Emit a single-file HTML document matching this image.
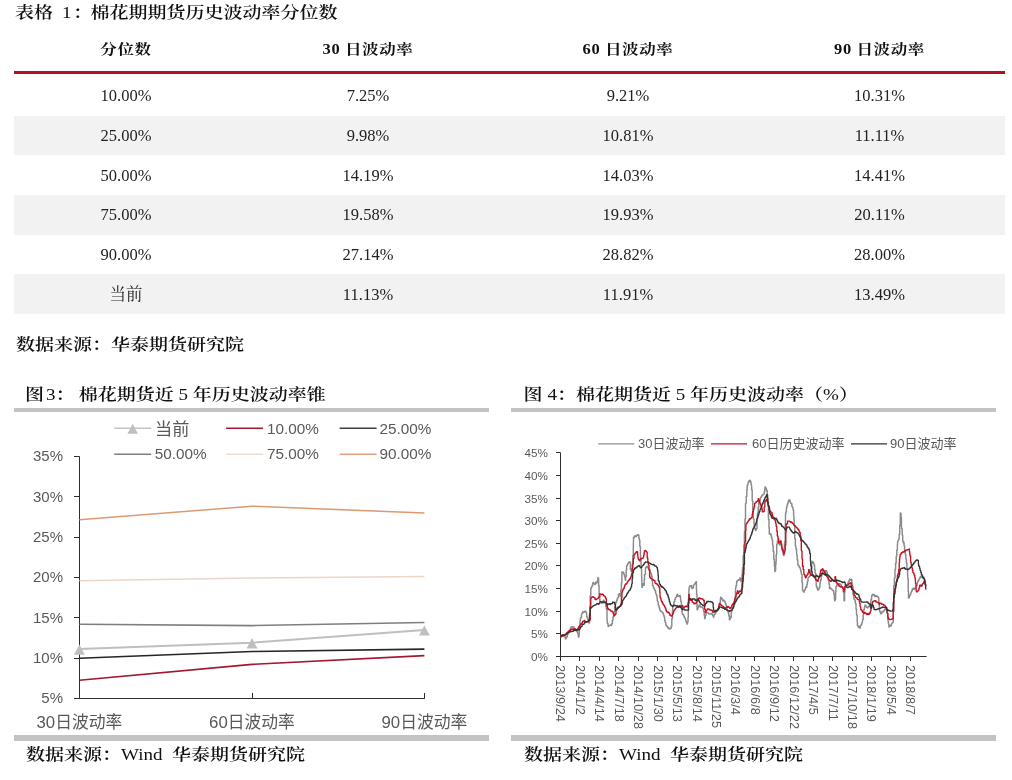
<!DOCTYPE html>
<html><head><meta charset="utf-8">
<style>
*{margin:0;padding:0;box-sizing:border-box}
html,body{width:1012px;height:780px;background:#fff;overflow:hidden}
body{position:relative;font-family:"Liberation Serif","Noto Serif CJK SC",serif;color:#1a1a1a}
.a{position:absolute;white-space:nowrap}
.t{font-size:19px;line-height:1;transform:scaleY(0.86);transform-origin:0 8.5px;font-weight:600;color:#111}
.l{font-weight:400}
.row{position:absolute;left:14px;width:991px;background:#f2f2f2}
.c{position:absolute;white-space:nowrap;transform:translateX(-50%);font-size:16.5px;line-height:1;color:#222}
.h{font-weight:bold;font-size:16.5px;color:#111;letter-spacing:0.6px;transform:translateX(-50%) scaleY(0.86);transform-origin:50% 6.5px}
.bar{position:absolute;background:#c3c3c3}
.sl{font-family:"Liberation Sans","Noto Sans CJK SC",sans-serif;color:#595959}
svg{position:absolute;left:0;top:0}
</style></head><body>
<div class="a t" style="left:15px;top:2.6px">表格<span class="l" style="margin-left:9px">1</span><span style="margin-left:1.5px">：</span><span style="margin-left:-1.5px">棉花期期货</span>历史波动率分位数</div>

<div class="c h" style="left:126px;top:42.4px">分位数</div>
<div class="c h" style="left:368px;top:42.4px">30 日波动率</div>
<div class="c h" style="left:628px;top:42.4px">60 日波动率</div>
<div class="c h" style="left:879.5px;top:42.4px">90 日波动率</div>
<div class="a" style="left:14px;top:71px;width:991px;height:3px;background:#b0101e"></div>

<div class="row" style="top:116px;height:38.5px"></div>
<div class="row" style="top:195px;height:39.6px"></div>
<div class="row" style="top:273.7px;height:40.3px"></div>

<div class="c" style="left:126px;top:88px">10.00%</div>
<div class="c" style="left:368px;top:88px">7.25%</div>
<div class="c" style="left:628px;top:88px">9.21%</div>
<div class="c" style="left:879.5px;top:88px">10.31%</div>

<div class="c" style="left:126px;top:128px">25.00%</div>
<div class="c" style="left:368px;top:128px">9.98%</div>
<div class="c" style="left:628px;top:128px">10.81%</div>
<div class="c" style="left:879.5px;top:128px">11.11%</div>

<div class="c" style="left:126px;top:168px">50.00%</div>
<div class="c" style="left:368px;top:168px">14.19%</div>
<div class="c" style="left:628px;top:168px">14.03%</div>
<div class="c" style="left:879.5px;top:168px">14.41%</div>

<div class="c" style="left:126px;top:207px">75.00%</div>
<div class="c" style="left:368px;top:207px">19.58%</div>
<div class="c" style="left:628px;top:207px">19.93%</div>
<div class="c" style="left:879.5px;top:207px">20.11%</div>

<div class="c" style="left:126px;top:247px">90.00%</div>
<div class="c" style="left:368px;top:247px">27.14%</div>
<div class="c" style="left:628px;top:247px">28.82%</div>
<div class="c" style="left:879.5px;top:247px">28.00%</div>

<div class="c" style="left:126px;top:287px">当前</div>
<div class="c" style="left:368px;top:287px">11.13%</div>
<div class="c" style="left:628px;top:287px">11.91%</div>
<div class="c" style="left:879.5px;top:287px">13.49%</div>

<div class="a t" style="left:16px;top:334.5px">数据来源：华泰期货研究院</div>

<div class="a t" style="left:25px;top:384.6px">图<span class="l" style="margin-left:2px">3</span>：&nbsp;<span style="margin-left:-0.5px">棉花</span>期货近<span class="l"> 5 </span>年历史波动率锥</div>
<div class="a t" style="left:523.5px;top:384.6px">图<span class="l" style="margin-left:5px">4</span>：棉花期货近<span class="l"> 5 </span>年历史波动率（<span class="l">%</span>）</div>
<div class="bar" style="left:14px;top:408px;width:474.5px;height:4px"></div>
<div class="bar" style="left:511px;top:408px;width:485px;height:4px"></div>
<div class="bar" style="left:14px;top:735px;width:474.5px;height:5.5px"></div>
<div class="bar" style="left:511px;top:735px;width:485px;height:5.5px"></div>
<div class="a t" style="left:26px;top:745.2px">数据来源：<span class="l">Wind&nbsp; </span>华泰期货研究院</div>
<div class="a t" style="left:524px;top:745.2px">数据来源：<span class="l">Wind&nbsp; </span>华泰期货研究院</div>

<style>
.yl{right:949px;font-size:15px;line-height:18px;text-align:right}
.xl{top:713.5px;font-size:16.8px;line-height:18px;transform:translateX(-50%)}
.lg{font-size:15.3px;line-height:18px}
.ry{right:464px;font-size:11.7px;line-height:14px;text-align:right}
.rx{top:664.5px;font-size:12.8px;line-height:12px;transform-origin:0 0;transform:rotate(90deg) translateY(-50%)}
.rl{top:436px;font-size:13px;line-height:16px}
</style><svg width="1012" height="780" viewBox="0 0 1012 780"><line x1="79.5" y1="456.4" x2="79.5" y2="698.5" stroke="#2e2e2e" stroke-width="1"/>
<line x1="74" y1="698.5" x2="424.9" y2="698.5" stroke="#2e2e2e" stroke-width="1"/>
<line x1="74" y1="698.5" x2="79.5" y2="698.5" stroke="#2e2e2e" stroke-width="1"/>
<line x1="74" y1="658.5" x2="79.5" y2="658.5" stroke="#2e2e2e" stroke-width="1"/>
<line x1="74" y1="617.5" x2="79.5" y2="617.5" stroke="#2e2e2e" stroke-width="1"/>
<line x1="74" y1="577.5" x2="79.5" y2="577.5" stroke="#2e2e2e" stroke-width="1"/>
<line x1="74" y1="537.5" x2="79.5" y2="537.5" stroke="#2e2e2e" stroke-width="1"/>
<line x1="74" y1="496.5" x2="79.5" y2="496.5" stroke="#2e2e2e" stroke-width="1"/>
<line x1="74" y1="456.5" x2="79.5" y2="456.5" stroke="#2e2e2e" stroke-width="1"/>
<line x1="252.5" y1="693" x2="252.5" y2="698.5" stroke="#2e2e2e" stroke-width="1"/>
<line x1="424.5" y1="693" x2="424.5" y2="698.5" stroke="#2e2e2e" stroke-width="1"/>
<polyline fill="none" stroke="#ecd6c8" stroke-width="1.6" points="79.4,580.8 252.0,578.0 424.4,576.5"/>
<polyline fill="none" stroke="#dc9a70" stroke-width="1.5" points="79.4,519.8 252.0,506.2 424.4,512.9"/>
<polyline fill="none" stroke="#7f7f7f" stroke-width="1.6" points="79.4,624.3 252.0,625.6 424.4,622.5"/>
<polyline fill="none" stroke="#262626" stroke-width="1.6" points="79.4,658.2 252.0,651.5 424.4,649.1"/>
<polyline fill="none" stroke="#a3182e" stroke-width="1.6" points="79.4,680.2 252.0,664.4 424.4,655.6"/>
<polyline fill="none" stroke="#bfbfbf" stroke-width="2" points="79.4,648.9 252.0,642.7 424.4,629.9"/>
<polygon fill="#bfbfbf" points="74.0,654.7 84.8,654.7 79.4,644.4"/>
<polygon fill="#bfbfbf" points="246.6,648.4 257.4,648.4 252.0,638.1"/>
<polygon fill="#bfbfbf" points="419.0,635.6 429.8,635.6 424.4,625.4"/>
<line x1="114.2" y1="428.2" x2="151.2" y2="428.2" stroke="#c4c4c4" stroke-width="1.4"/>
<line x1="226.1" y1="428.2" x2="263.1" y2="428.2" stroke="#a3182e" stroke-width="1.4"/>
<line x1="339.6" y1="428.2" x2="376.6" y2="428.2" stroke="#404040" stroke-width="1.4"/>
<line x1="114.2" y1="454.2" x2="151.2" y2="454.2" stroke="#7f7f7f" stroke-width="1.4"/>
<line x1="226.1" y1="454.2" x2="263.1" y2="454.2" stroke="#ecdcd0" stroke-width="1.4"/>
<line x1="339.6" y1="454.2" x2="376.6" y2="454.2" stroke="#e0a282" stroke-width="1.4"/>
<polygon fill="#bfbfbf" points="127.4,433.8 137.9,433.8 132.7,423.8"/>
<line x1="560.5" y1="452.7" x2="560.5" y2="657" stroke="#2e2e2e" stroke-width="1"/>
<line x1="556" y1="656.5" x2="926.6" y2="656.5" stroke="#2e2e2e" stroke-width="1"/>
<line x1="556" y1="656.5" x2="560.5" y2="656.5" stroke="#2e2e2e" stroke-width="1"/>
<line x1="556" y1="633.5" x2="560.5" y2="633.5" stroke="#2e2e2e" stroke-width="1"/>
<line x1="556" y1="611.5" x2="560.5" y2="611.5" stroke="#2e2e2e" stroke-width="1"/>
<line x1="556" y1="588.5" x2="560.5" y2="588.5" stroke="#2e2e2e" stroke-width="1"/>
<line x1="556" y1="565.5" x2="560.5" y2="565.5" stroke="#2e2e2e" stroke-width="1"/>
<line x1="556" y1="543.5" x2="560.5" y2="543.5" stroke="#2e2e2e" stroke-width="1"/>
<line x1="556" y1="520.5" x2="560.5" y2="520.5" stroke="#2e2e2e" stroke-width="1"/>
<line x1="556" y1="498.5" x2="560.5" y2="498.5" stroke="#2e2e2e" stroke-width="1"/>
<line x1="556" y1="475.5" x2="560.5" y2="475.5" stroke="#2e2e2e" stroke-width="1"/>
<line x1="556" y1="452.5" x2="560.5" y2="452.5" stroke="#2e2e2e" stroke-width="1"/>
<line x1="560.5" y1="656.5" x2="560.5" y2="661" stroke="#2e2e2e" stroke-width="1"/>
<line x1="579.5" y1="656.5" x2="579.5" y2="661" stroke="#2e2e2e" stroke-width="1"/>
<line x1="599.5" y1="656.5" x2="599.5" y2="661" stroke="#2e2e2e" stroke-width="1"/>
<line x1="618.5" y1="656.5" x2="618.5" y2="661" stroke="#2e2e2e" stroke-width="1"/>
<line x1="638.5" y1="656.5" x2="638.5" y2="661" stroke="#2e2e2e" stroke-width="1"/>
<line x1="657.5" y1="656.5" x2="657.5" y2="661" stroke="#2e2e2e" stroke-width="1"/>
<line x1="677.5" y1="656.5" x2="677.5" y2="661" stroke="#2e2e2e" stroke-width="1"/>
<line x1="696.5" y1="656.5" x2="696.5" y2="661" stroke="#2e2e2e" stroke-width="1"/>
<line x1="715.5" y1="656.5" x2="715.5" y2="661" stroke="#2e2e2e" stroke-width="1"/>
<line x1="735.5" y1="656.5" x2="735.5" y2="661" stroke="#2e2e2e" stroke-width="1"/>
<line x1="754.5" y1="656.5" x2="754.5" y2="661" stroke="#2e2e2e" stroke-width="1"/>
<line x1="774.5" y1="656.5" x2="774.5" y2="661" stroke="#2e2e2e" stroke-width="1"/>
<line x1="793.5" y1="656.5" x2="793.5" y2="661" stroke="#2e2e2e" stroke-width="1"/>
<line x1="813.5" y1="656.5" x2="813.5" y2="661" stroke="#2e2e2e" stroke-width="1"/>
<line x1="832.5" y1="656.5" x2="832.5" y2="661" stroke="#2e2e2e" stroke-width="1"/>
<line x1="852.5" y1="656.5" x2="852.5" y2="661" stroke="#2e2e2e" stroke-width="1"/>
<line x1="871.5" y1="656.5" x2="871.5" y2="661" stroke="#2e2e2e" stroke-width="1"/>
<line x1="890.5" y1="656.5" x2="890.5" y2="661" stroke="#2e2e2e" stroke-width="1"/>
<line x1="910.5" y1="656.5" x2="910.5" y2="661" stroke="#2e2e2e" stroke-width="1"/>
<polyline fill="none" stroke="#8a8a8a" stroke-width="1.45" stroke-linejoin="round" points="560.8,636.3 561.4,636.3 561.4,635.7 561.9,635.7 561.9,636.2 562.0,636.2 562.0,636.2 562.6,636.2 562.6,635.3 563.1,635.3 563.1,634.5 563.2,634.5 563.2,635.2 563.8,635.2 563.8,635.5 564.2,635.5 564.2,635.7 564.4,635.7 564.4,636.1 565.0,636.1 565.0,637.6 565.4,637.6 565.4,639.0 565.6,639.0 565.6,638.7 566.2,638.7 566.2,637.8 566.5,637.8 566.5,637.3 566.8,637.3 566.8,636.8 567.4,636.8 567.4,634.8 567.7,634.8 567.7,634.2 568.0,634.2 568.0,632.9 568.6,632.9 568.6,632.5 569.2,632.5 569.2,632.1 569.4,632.1 569.4,631.9 569.8,631.9 569.8,631.2 570.4,631.2 570.4,628.1 571.0,628.1 571.0,626.9 571.1,626.9 571.1,627.3 571.6,627.3 571.6,627.1 572.2,627.1 572.2,626.8 572.3,626.8 572.3,626.7 572.8,626.7 572.8,627.0 573.4,627.0 573.5,627.0 573.5,627.0 574.0,627.0 574.0,629.1 574.6,629.1 574.6,629.5 575.2,629.5 575.2,629.9 575.2,629.9 575.2,629.9 575.8,629.9 575.8,630.3 576.3,630.3 576.3,630.8 576.4,630.8 576.4,630.5 577.0,630.5 577.0,631.7 577.5,631.7 577.5,632.8 577.6,632.8 577.6,633.2 578.2,633.2 578.2,636.2 578.6,636.2 578.6,637.2 578.8,637.2 578.8,635.5 579.2,635.5 579.2,626.7 579.4,626.7 579.4,625.6 580.0,625.6 580.0,620.8 580.4,620.8 580.4,618.3 580.6,618.3 580.6,617.9 581.2,617.9 581.2,616.7 581.5,616.7 581.5,614.1 581.8,614.1 581.8,613.6 582.4,613.6 582.4,612.4 582.7,612.4 582.7,611.8 583.0,611.8 583.0,612.6 583.6,612.6 583.6,612.2 584.2,612.2 584.2,611.8 584.4,611.8 584.4,611.6 584.8,611.6 584.8,611.1 585.4,611.1 585.4,611.5 585.6,611.5 585.6,611.2 586.0,611.2 586.0,612.6 586.6,612.6 586.6,614.7 586.7,614.7 586.7,616.5 587.2,616.5 587.2,617.8 587.8,617.8 587.8,619.2 587.9,619.2 587.9,619.5 588.4,619.5 588.4,621.5 589.0,621.5 589.0,622.9 589.0,622.9 589.0,623.1 589.6,623.1 589.6,614.5 589.6,614.5 589.6,613.9 590.2,613.9 590.2,596.2 590.2,596.2 590.2,595.8 590.8,595.8 590.8,588.2 590.8,588.2 590.8,588.2 591.4,588.2 591.4,587.0 591.9,587.0 591.9,585.9 592.0,585.9 592.0,585.8 592.6,585.8 592.6,583.2 593.1,583.2 593.1,582.5 593.2,582.5 593.2,582.6 593.8,582.6 593.8,583.6 594.4,583.6 594.4,584.2 594.8,584.2 594.8,584.6 595.0,584.6 595.0,584.1 595.6,584.1 595.6,582.3 595.9,582.3 595.9,583.2 596.2,583.2 596.2,583.0 596.8,583.0 596.8,582.4 597.1,582.4 597.1,582.0 597.4,582.0 597.4,580.5 597.9,580.5 597.9,577.5 598.0,577.5 598.0,578.2 598.6,578.2 598.6,585.2 598.6,585.2 598.6,585.6 599.1,585.6 599.1,596.0 599.2,596.0 599.2,596.7 599.8,596.7 599.8,600.4 600.0,600.4 600.0,601.8 600.0,601.8 600.0,601.6 600.4,601.6 600.4,601.8 601.0,601.8 601.0,602.2 601.6,602.2 601.6,602.6 601.7,602.6 601.7,603.3 602.2,603.3 602.2,602.7 602.8,602.7 602.8,601.0 603.4,601.0 603.4,600.2 603.5,600.2 603.5,600.1 604.0,600.1 604.0,601.6 604.6,601.6 604.6,602.4 605.2,602.4 605.2,603.2 605.2,603.2 605.2,603.2 605.8,603.2 605.8,606.6 606.4,606.6 606.4,609.2 606.4,609.2 606.4,609.5 607.0,609.5 607.0,619.7 607.2,619.7 607.2,623.0 607.6,623.0 607.6,623.8 608.1,623.8 608.1,626.4 608.2,626.4 608.2,626.3 608.8,626.3 608.8,625.5 609.4,625.5 609.4,625.4 610.0,625.4 610.0,625.2 610.4,625.2 610.4,625.1 610.6,625.1 610.6,624.8 611.2,624.8 611.2,625.6 611.5,625.6 611.5,624.8 611.8,624.8 611.8,623.6 612.4,623.6 612.4,620.3 613.0,620.3 613.0,617.0 613.6,617.0 613.6,614.0 613.9,614.0 613.9,612.4 614.2,612.4 614.2,611.2 614.8,611.2 614.8,606.5 615.4,606.5 615.4,604.1 615.6,604.1 615.6,603.2 616.0,603.2 616.0,601.9 616.6,601.9 616.6,600.3 617.2,600.3 617.2,598.7 617.3,598.7 617.3,598.3 617.8,598.3 617.8,597.7 618.4,597.7 618.4,594.7 619.0,594.7 619.0,593.9 619.1,593.9 619.1,593.7 619.6,593.7 619.6,594.8 620.2,594.8 620.2,596.6 620.2,596.6 620.2,596.6 620.8,596.6 620.8,589.9 621.4,589.9 621.4,582.8 621.4,582.8 621.4,582.7 621.9,582.7 621.9,572.0 622.0,572.0 622.0,572.0 622.6,572.0 623.1,572.0 623.1,572.5 623.2,572.5 623.2,572.7 623.8,572.7 623.8,573.9 624.2,573.9 624.2,574.8 624.4,574.8 624.4,576.0 625.0,576.0 625.0,578.4 625.4,578.4 625.4,580.2 625.6,580.2 625.6,576.7 626.2,576.7 626.2,570.1 626.6,570.1 626.6,565.8 626.8,565.8 626.8,565.7 627.4,565.7 627.4,564.5 627.7,564.5 627.7,563.8 628.0,563.8 628.0,563.3 628.6,563.3 628.6,562.7 628.9,562.7 628.9,562.1 629.2,562.1 629.2,561.8 629.8,561.8 629.8,562.3 629.8,562.3 629.8,562.3 630.4,562.3 630.4,569.2 630.4,569.2 630.4,569.2 631.0,569.2 631.0,570.6 631.2,570.6 631.2,571.2 631.6,571.2 631.6,568.8 632.2,568.8 632.2,565.2 632.3,565.2 632.3,564.2 632.8,564.2 632.8,555.5 633.3,555.5 633.3,546.3 633.4,546.3 633.4,541.9 633.5,541.9 633.5,537.1 634.0,537.1 634.0,537.4 634.6,537.4 634.6,536.2 634.6,536.2 634.6,536.0 635.2,536.0 635.2,536.2 635.8,536.2 635.8,536.4 636.4,536.4 636.4,535.1 636.4,535.1 637.0,535.1 637.0,535.3 637.6,535.3 637.6,534.7 638.1,534.7 638.1,534.9 638.2,534.9 638.2,535.0 638.8,535.0 638.8,537.9 639.3,537.9 639.3,538.9 639.4,538.9 639.4,540.2 639.8,540.2 639.8,545.8 640.0,545.8 640.0,546.8 640.4,546.8 640.4,554.9 640.6,554.9 640.6,558.9 641.0,558.9 641.0,566.5 641.2,566.5 641.2,568.9 641.6,568.9 641.6,576.9 641.8,576.9 641.8,582.3 641.9,582.3 641.9,587.3 642.4,587.3 642.4,586.0 642.7,586.0 642.7,585.0 643.0,585.0 643.0,585.2 643.3,585.2 643.3,583.8 643.6,583.8 643.6,584.4 643.9,584.4 643.9,585.2 644.2,585.2 644.2,580.0 644.5,580.0 644.5,574.8 644.8,574.8 644.8,574.4 645.4,574.4 645.4,569.6 645.6,569.6 645.6,567.7 646.0,567.7 646.0,567.3 646.6,567.3 646.6,566.4 646.8,566.4 646.8,566.2 647.2,566.2 647.2,566.6 647.8,566.6 647.8,567.2 647.9,567.2 647.9,567.8 648.4,567.8 648.4,568.7 649.0,568.7 649.0,569.9 649.1,569.9 649.1,569.1 649.6,569.1 649.6,570.6 650.2,570.6 650.2,572.4 650.2,572.4 650.2,572.6 650.8,572.6 650.8,573.6 651.4,573.6 651.4,576.0 651.4,576.0 651.4,576.0 652.0,576.0 652.0,580.7 652.5,580.7 652.5,585.3 652.6,585.3 652.6,585.3 653.2,585.3 653.2,587.1 653.7,587.1 653.7,587.9 653.8,587.9 653.8,588.1 654.4,588.1 654.4,589.5 654.8,589.5 654.8,590.4 655.0,590.4 655.0,590.7 655.6,590.7 655.6,593.2 656.0,593.2 656.0,594.1 656.2,594.1 656.2,594.7 656.8,594.7 656.8,597.1 657.2,597.1 657.2,600.5 657.4,600.5 657.4,601.1 658.0,601.1 658.0,602.9 658.3,602.9 658.3,605.0 658.6,605.0 658.6,605.9 659.2,605.9 659.2,607.9 659.8,607.9 659.8,609.9 660.0,609.9 660.0,610.8 660.4,610.8 660.4,610.7 661.0,610.7 661.0,611.5 661.6,611.5 661.6,611.7 661.8,611.7 661.8,612.0 662.2,612.0 662.2,612.5 662.8,612.5 662.8,613.3 663.4,613.3 663.4,614.1 663.5,614.1 663.5,615.0 664.0,615.0 664.0,616.8 664.6,616.8 664.6,619.2 664.7,619.2 664.7,620.4 665.2,620.4 665.2,622.4 665.8,622.4 665.8,624.8 665.8,624.8 665.8,625.0 666.4,625.0 666.4,626.1 667.0,626.1 667.0,626.2 667.6,626.2 667.6,627.4 668.2,627.4 668.2,628.6 668.8,628.6 668.8,628.0 669.3,628.0 669.3,629.0 669.4,629.0 669.4,629.0 670.0,629.0 670.0,628.6 670.6,628.6 670.6,628.2 671.0,628.2 671.0,628.2 671.2,628.2 671.2,626.3 671.8,626.3 671.8,618.7 672.4,618.7 672.4,611.1 672.7,611.1 672.7,606.2 673.0,606.2 673.0,606.6 673.6,606.6 673.6,603.6 673.9,603.6 673.9,601.9 674.2,601.9 674.2,601.4 674.8,601.4 674.8,599.2 675.4,599.2 675.4,598.0 675.6,598.0 675.6,597.5 676.0,597.5 676.0,597.1 676.6,597.1 676.6,595.2 677.2,595.2 677.2,594.4 677.4,594.4 677.4,594.2 677.8,594.2 677.8,596.3 678.4,596.3 679.0,596.3 679.6,596.3 679.7,596.3 679.7,595.5 680.2,595.5 680.2,597.7 680.6,597.7 680.6,600.2 680.8,600.2 680.8,601.4 681.4,601.4 681.4,607.4 681.4,607.4 681.4,607.4 682.0,607.4 682.0,611.7 682.2,611.7 682.2,613.6 682.6,613.6 682.6,614.3 683.2,614.3 683.2,614.8 683.2,614.8 683.2,614.9 683.8,614.9 683.8,616.5 684.4,616.5 684.4,617.7 684.8,617.7 684.8,617.9 685.0,617.9 685.0,618.6 685.6,618.6 685.6,620.4 685.8,620.4 685.8,621.0 686.2,621.0 686.2,622.2 686.8,622.2 686.8,623.7 686.8,623.7 686.8,623.9 687.4,623.9 687.4,622.2 687.8,622.2 687.8,621.9 688.0,621.9 688.0,617.4 688.3,617.4 688.3,602.6 688.6,602.6 688.6,596.9 688.9,596.9 688.9,589.3 689.2,589.3 689.2,587.4 689.4,587.4 689.4,586.2 689.8,586.2 689.8,586.4 690.4,586.4 690.4,586.0 690.9,586.0 690.9,585.7 691.0,585.7 691.0,585.8 691.6,585.8 691.6,587.0 691.9,587.0 691.9,588.4 692.2,588.4 692.2,588.3 692.8,588.3 692.8,587.9 693.4,587.9 693.4,585.2 693.5,585.2 693.5,585.1 694.0,585.1 694.0,584.5 694.6,584.5 694.6,583.7 695.0,583.7 695.0,583.1 695.2,583.1 695.2,583.5 695.8,583.5 695.8,582.3 696.0,582.3 696.0,581.8 696.4,581.8 696.4,589.5 696.6,589.5 696.6,594.4 697.0,594.4 697.0,606.6 697.1,606.6 697.1,609.8 697.6,609.8 697.6,608.3 698.1,608.3 698.1,606.7 698.2,606.7 698.2,606.9 698.8,606.9 698.8,605.7 699.1,605.7 699.1,605.0 699.4,605.0 699.4,605.3 700.0,605.3 700.0,606.8 700.2,606.8 700.2,607.0 700.6,607.0 701.2,607.0 701.7,607.0 701.7,607.1 701.8,607.1 701.8,607.2 702.4,607.2 702.4,607.8 702.7,607.8 703.0,607.8 703.0,608.6 703.6,608.6 703.6,611.1 703.7,611.1 703.7,611.6 704.2,611.6 704.2,615.3 704.6,615.3 704.6,618.8 704.8,618.8 704.8,617.7 705.3,617.7 705.3,615.4 705.4,615.4 705.4,615.2 706.0,615.2 706.0,613.4 706.3,613.4 706.3,612.4 706.6,612.4 706.6,612.6 707.2,612.6 707.2,612.6 707.3,612.6 707.3,612.8 707.8,612.8 707.8,613.0 708.4,613.0 708.4,613.6 708.9,613.6 708.9,613.9 709.0,613.9 709.6,613.9 709.6,613.9 710.2,613.9 710.4,613.9 710.8,613.9 710.8,614.1 711.4,614.1 711.4,613.5 711.4,613.5 711.4,613.4 712.0,613.4 712.0,613.9 712.5,613.9 712.5,615.2 712.6,615.2 712.6,615.4 713.2,615.4 713.2,616.6 713.5,616.6 713.5,617.3 713.8,617.3 713.8,615.0 714.4,615.0 714.4,614.4 714.5,614.4 714.5,614.2 715.0,614.2 715.0,613.8 715.6,613.8 715.6,612.1 715.6,612.1 715.6,612.1 716.2,612.1 716.2,611.5 716.8,611.5 716.8,610.9 717.1,610.9 717.1,610.5 717.4,610.5 717.4,610.0 718.0,610.0 718.0,609.0 718.6,609.0 718.6,608.0 718.6,608.0 718.6,607.9 719.2,607.9 719.2,605.7 719.7,605.7 719.7,602.8 719.8,602.8 719.8,602.4 720.4,602.4 720.4,598.5 720.7,598.5 720.7,597.3 721.0,597.3 721.0,597.7 721.6,597.7 721.6,598.6 721.7,598.6 721.7,598.4 722.2,598.4 722.2,599.5 722.7,599.5 722.7,600.7 722.8,600.7 722.8,600.7 723.4,600.7 723.4,600.3 724.0,600.3 724.0,601.0 724.3,601.0 724.3,600.8 724.6,600.8 724.6,601.7 725.2,601.7 725.2,603.0 725.3,603.0 725.3,603.5 725.8,603.5 725.8,604.8 726.3,604.8 726.3,606.6 726.4,606.6 726.4,606.6 727.0,606.6 727.0,609.4 727.4,609.4 727.4,610.2 727.6,610.2 727.6,610.4 728.2,610.4 728.2,612.8 728.4,612.8 728.4,613.6 728.8,613.6 728.8,615.8 729.4,615.8 729.4,619.4 729.4,619.4 729.4,619.7 730.0,619.7 730.0,618.3 730.4,618.3 730.4,617.3 730.6,617.3 730.6,617.4 731.2,617.4 731.2,613.2 731.5,613.2 731.5,611.1 731.8,611.1 731.8,610.2 732.4,610.2 732.4,608.4 732.5,608.4 732.5,608.4 733.0,608.4 733.0,607.0 733.5,607.0 733.5,605.0 733.6,605.0 733.6,604.8 734.2,604.8 734.2,602.4 734.5,602.4 734.5,600.9 734.8,600.9 734.8,599.4 735.4,599.4 735.4,591.0 735.6,591.0 735.6,587.8 736.0,587.8 736.0,585.5 736.6,585.5 736.6,581.9 736.6,581.9 736.6,581.7 737.2,581.7 737.2,580.5 737.8,580.5 737.8,580.6 738.1,580.6 738.1,579.9 738.4,579.9 738.4,580.3 739.0,580.3 739.0,579.5 739.6,579.5 739.6,578.7 739.7,578.7 739.7,578.0 740.2,578.0 740.2,579.4 740.8,579.4 740.8,581.1 741.0,581.1 741.0,581.8 741.4,581.8 741.4,578.1 742.0,578.1 742.0,574.5 742.4,574.5 742.4,569.8 742.6,569.8 742.6,567.4 743.2,567.4 743.2,555.8 743.8,555.8 743.8,545.0 744.4,545.0 744.4,534.2 744.5,534.2 744.5,531.5 745.0,531.5 745.0,519.0 745.5,519.0 745.5,504.8 745.6,504.8 745.6,503.3 746.2,503.3 746.2,496.5 746.8,496.5 746.8,489.8 747.2,489.8 747.2,485.4 747.4,485.4 747.4,485.0 748.0,485.0 748.0,482.6 748.6,482.6 748.6,481.3 748.6,481.3 748.6,481.2 749.2,481.2 749.2,481.6 749.8,481.6 749.8,480.2 750.0,480.2 750.0,480.4 750.4,480.4 750.4,481.8 751.0,481.8 751.0,484.3 751.3,484.3 751.3,485.1 751.6,485.1 751.6,489.8 752.2,489.8 752.2,499.2 752.3,499.2 752.3,500.9 752.8,500.9 752.8,509.6 753.3,509.6 753.3,518.3 753.4,518.3 753.4,519.1 754.0,519.1 754.0,523.9 754.3,523.9 754.3,526.9 754.6,526.9 754.6,528.3 755.2,528.3 755.2,529.4 755.4,529.4 755.4,530.6 755.8,530.6 755.8,529.7 756.4,529.7 756.4,528.5 756.4,528.5 756.4,528.5 757.0,528.5 757.0,519.9 757.4,519.9 757.4,513.7 757.6,513.7 757.6,513.3 758.2,513.3 758.2,507.3 758.8,507.3 758.8,501.3 758.8,501.3 758.8,500.5 759.4,500.5 759.4,501.8 760.0,501.8 760.0,500.1 760.3,500.1 760.3,498.2 760.6,498.2 760.6,497.6 761.2,497.6 761.2,496.5 761.8,496.5 761.8,495.4 761.9,495.4 761.9,495.2 762.4,495.2 762.4,494.9 763.0,494.9 763.0,494.5 763.6,494.5 763.6,494.1 763.6,494.1 763.6,494.1 764.2,494.1 764.2,491.8 764.8,491.8 764.8,488.3 765.0,488.3 765.0,487.0 765.4,487.0 765.4,487.8 766.0,487.8 766.0,488.5 766.4,488.5 766.4,489.5 766.6,489.5 766.6,490.5 767.2,490.5 767.2,495.0 767.7,495.0 767.7,499.6 767.8,499.6 767.8,502.1 768.4,502.1 768.4,517.1 768.5,517.1 768.5,519.5 769.0,519.5 769.0,527.9 769.3,527.9 769.3,533.9 769.6,533.9 770.2,533.9 770.2,533.8 770.5,533.8 770.8,533.8 770.8,535.2 771.4,535.2 771.4,537.2 771.8,537.2 771.8,538.6 772.0,538.6 772.0,540.1 772.6,540.1 772.6,544.2 772.8,544.2 772.8,546.1 773.2,546.1 773.2,551.3 773.8,551.3 773.8,558.6 773.8,558.6 773.8,559.3 774.4,559.3 774.4,565.9 774.8,565.9 774.8,571.6 775.0,571.6 775.0,570.8 775.6,570.8 775.6,564.8 775.9,564.8 775.9,561.8 776.2,561.8 776.2,554.8 776.7,554.8 776.7,544.3 776.8,544.3 776.8,543.9 777.4,543.9 777.4,540.9 777.9,540.9 777.9,539.9 778.0,539.9 778.0,540.1 778.6,540.1 778.6,542.7 779.2,542.7 779.2,544.2 779.4,544.2 779.4,545.0 779.8,545.0 779.8,544.3 780.4,544.3 780.4,541.9 780.4,541.9 780.4,541.8 781.0,541.8 781.0,544.7 781.6,544.7 781.6,547.7 782.0,547.7 782.0,550.0 782.2,550.0 782.2,550.4 782.8,550.4 782.8,552.1 783.4,552.1 783.4,555.2 783.5,555.2 783.5,555.5 784.0,555.5 784.0,548.5 784.5,548.5 784.5,542.2 784.6,542.2 784.6,541.5 785.2,541.5 785.2,524.7 785.5,524.7 785.5,513.6 785.8,513.6 785.8,512.1 786.4,512.1 786.4,508.5 786.5,508.5 786.5,507.4 787.0,507.4 787.0,505.0 787.6,505.0 787.6,503.2 788.2,503.2 788.2,501.4 788.6,501.4 788.6,500.2 788.8,500.2 788.8,500.6 789.4,500.6 789.4,499.9 790.0,499.9 790.0,501.4 790.2,501.4 790.2,502.8 790.6,502.8 790.6,503.0 791.2,503.0 791.2,503.4 791.7,503.4 791.7,503.8 791.8,503.8 791.8,506.3 792.4,506.3 792.4,507.6 793.0,507.6 793.0,508.9 793.1,508.9 793.1,509.9 793.6,509.9 793.6,515.7 793.9,515.7 793.9,520.1 794.2,520.1 794.2,525.5 794.7,525.5 794.7,538.5 794.8,538.5 794.8,538.7 795.4,538.7 795.4,545.9 795.8,545.9 795.8,547.3 796.0,547.3 796.0,548.9 796.6,548.9 796.6,553.7 796.8,553.7 796.8,555.5 797.2,555.5 797.2,559.7 797.8,559.7 797.8,564.5 797.8,564.5 797.8,565.0 798.4,565.0 798.4,565.5 799.0,565.5 799.0,566.8 799.6,566.8 799.6,567.4 799.9,567.4 799.9,567.7 800.2,567.7 800.2,569.2 800.8,569.2 800.8,571.8 801.3,571.8 801.3,573.5 801.4,573.5 801.4,574.3 802.0,574.3 802.0,582.3 802.5,582.3 802.5,589.9 802.6,589.9 802.6,590.5 803.2,590.5 803.2,591.3 803.8,591.3 803.8,592.2 804.0,592.2 804.0,591.0 804.4,591.0 804.4,590.2 805.0,590.2 805.0,589.0 805.6,589.0 805.6,587.6 806.0,587.6 806.0,586.6 806.2,586.6 806.2,587.3 806.8,587.3 806.8,584.3 807.4,584.3 807.4,581.3 808.0,581.3 808.0,578.2 808.1,578.2 808.1,577.6 808.6,577.6 808.6,577.1 809.2,577.1 809.2,576.5 809.8,576.5 809.8,575.9 810.1,575.9 810.1,575.8 810.4,575.8 810.4,573.8 811.0,573.8 811.0,568.6 811.6,568.6 811.6,563.5 811.6,563.5 812.1,563.5 812.1,561.4 812.2,561.4 812.2,561.5 812.8,561.5 812.8,562.3 813.4,562.3 813.4,563.0 813.7,563.0 813.7,563.4 814.0,563.4 814.0,565.2 814.6,565.2 814.6,569.5 815.1,569.5 815.1,573.0 815.2,573.0 815.2,573.4 815.8,573.4 815.8,580.6 816.2,580.6 816.2,585.3 816.4,585.3 816.4,586.7 817.0,586.7 817.0,588.2 817.6,588.2 817.6,589.7 817.8,589.7 817.8,590.3 818.2,590.3 818.2,589.2 818.8,589.2 818.8,589.1 819.2,589.1 819.2,587.7 819.4,587.7 819.4,586.9 820.0,586.9 820.0,583.3 820.3,583.3 820.3,581.6 820.6,581.6 820.6,579.7 821.2,579.7 821.2,576.1 821.3,576.1 821.3,576.0 821.8,576.0 821.8,573.9 822.4,573.9 822.4,571.3 822.7,571.3 822.7,569.8 823.0,569.8 823.0,570.1 823.6,570.1 823.6,570.8 824.2,570.8 824.2,573.0 824.4,573.0 824.4,573.3 824.8,573.3 824.8,572.3 825.4,572.3 825.4,570.8 826.0,570.8 826.0,570.7 826.0,570.7 826.0,570.6 826.6,570.6 826.6,572.2 827.2,572.2 827.2,573.9 827.4,573.9 827.4,574.7 827.8,574.7 827.8,575.7 828.4,575.7 828.4,580.5 828.5,580.5 828.5,580.3 829.0,580.3 829.0,584.3 829.5,584.3 829.5,588.5 829.6,588.5 829.6,587.5 830.2,587.5 830.2,588.1 830.8,588.1 830.8,588.7 831.4,588.7 831.4,589.3 831.5,589.3 831.5,589.3 832.0,589.3 832.0,589.8 832.6,589.8 832.6,590.4 833.2,590.4 833.2,591.0 833.6,591.0 833.6,591.4 833.8,591.4 833.8,593.9 834.4,593.9 834.4,598.7 834.6,598.7 834.6,600.7 835.0,600.7 835.0,599.3 835.0,599.3 835.0,599.3 835.6,599.3 835.6,591.9 835.9,591.9 835.9,586.9 836.2,586.9 836.2,586.2 836.8,586.2 836.8,584.7 837.4,584.7 837.4,584.6 837.7,584.6 837.7,583.8 838.0,583.8 838.0,583.9 838.6,583.9 838.6,584.2 839.2,584.2 839.2,584.5 839.5,584.5 839.5,583.7 839.8,583.7 839.8,583.9 840.4,583.9 840.4,584.5 841.0,584.5 841.0,585.1 841.3,585.1 841.3,586.5 841.6,586.5 841.6,586.8 842.2,586.8 842.2,587.4 842.8,587.4 842.8,588.0 843.1,588.0 843.1,588.4 843.4,588.4 843.4,592.4 844.0,592.4 844.0,600.8 844.0,600.8 844.0,600.7 844.6,600.7 844.6,592.4 844.9,592.4 844.9,588.1 845.2,588.1 845.2,585.9 845.8,585.9 845.8,585.6 846.4,585.6 846.4,585.3 846.7,585.3 846.7,585.2 847.0,585.2 847.0,584.6 847.6,584.6 847.6,583.4 848.2,583.4 848.2,582.2 848.5,582.2 848.5,581.6 848.8,581.6 848.8,581.0 849.4,581.0 849.4,579.8 849.8,579.8 849.8,578.9 850.0,578.9 850.0,579.9 850.6,579.9 851.2,579.9 851.2,579.9 851.2,579.4 851.8,579.4 851.8,583.0 852.1,583.0 852.1,583.3 852.4,583.3 852.4,586.4 853.0,586.4 853.0,594.8 853.0,594.8 853.0,594.8 853.6,594.8 853.6,597.2 853.9,597.2 853.9,598.3 854.2,598.3 854.2,599.6 854.8,599.6 854.8,600.3 855.2,600.3 855.2,602.0 855.4,602.0 855.4,603.4 856.0,603.4 856.0,609.0 856.5,609.0 856.5,613.7 856.6,613.7 856.6,614.9 857.2,614.9 857.2,622.1 857.4,622.1 857.4,625.4 857.8,625.4 857.8,626.0 858.3,626.0 858.3,627.2 858.4,627.2 858.4,626.3 859.0,626.3 859.0,627.1 859.6,627.1 859.6,627.9 859.7,627.9 859.7,628.1 860.2,628.1 860.2,626.0 860.8,626.0 860.8,625.2 861.0,625.2 861.0,624.9 861.4,624.9 861.4,624.0 862.0,624.0 862.0,622.4 862.4,622.4 862.4,621.1 862.6,621.1 862.6,619.6 863.2,619.6 863.2,615.2 863.3,615.2 863.3,614.3 863.7,614.3 863.7,609.7 863.8,609.7 863.8,609.6 864.4,609.6 864.4,607.2 864.6,607.2 864.6,606.2 865.0,606.2 865.0,605.2 865.6,605.2 865.6,605.6 866.0,605.6 866.0,606.8 866.2,606.8 866.2,607.0 866.8,607.0 866.8,607.4 867.3,607.4 867.3,607.8 867.4,607.8 867.4,607.7 868.0,607.7 868.0,606.9 868.6,606.9 868.6,606.1 868.7,606.1 868.7,606.6 869.2,606.6 869.2,605.9 869.8,605.9 869.8,605.1 870.0,605.1 870.0,604.8 870.4,604.8 870.4,603.0 870.9,603.0 870.9,599.7 871.0,599.7 871.0,599.4 871.6,599.4 871.6,596.4 871.8,596.4 871.8,595.2 872.2,595.2 872.2,595.5 872.8,595.5 872.8,594.3 873.2,594.3 873.2,594.6 873.4,594.6 874.0,594.6 874.5,594.6 874.6,594.6 874.6,596.4 875.2,596.4 875.8,596.4 875.8,596.4 875.8,595.7 876.4,595.7 876.4,596.0 877.0,596.0 877.0,596.4 877.2,596.4 877.2,596.1 877.6,596.1 877.6,596.8 878.1,596.8 878.1,597.1 878.2,597.1 878.2,597.7 878.8,597.7 878.8,603.0 879.0,603.0 879.0,604.5 879.4,604.5 879.4,609.9 879.4,609.9 879.4,610.8 880.0,610.8 880.0,612.0 880.3,612.0 880.3,612.8 880.6,612.8 880.6,613.8 881.2,613.8 881.2,613.4 881.7,613.4 881.7,613.1 881.8,613.1 881.8,611.8 882.4,611.8 883.0,611.8 883.0,611.8 883.0,611.8 883.6,611.8 883.6,610.8 884.2,610.8 884.2,610.2 884.4,610.2 884.4,609.8 884.8,609.8 884.8,609.5 885.4,609.5 885.4,609.1 885.7,609.1 885.7,608.4 886.0,608.4 886.0,609.2 886.6,609.2 886.6,611.2 887.1,611.2 887.1,612.4 887.2,612.4 887.2,613.4 887.8,613.4 887.8,619.4 888.0,619.4 888.0,621.3 888.4,621.3 888.4,623.9 888.9,623.9 888.9,626.9 889.0,626.9 889.0,626.8 889.6,626.8 889.6,626.0 890.2,626.0 890.2,625.2 890.2,625.2 890.2,625.9 890.8,625.9 890.8,625.5 891.4,625.5 891.4,625.1 891.6,625.1 891.6,623.4 892.0,623.4 892.0,623.1 892.6,623.1 892.6,622.7 892.9,622.7 892.9,622.5 893.2,622.5 893.2,609.6 893.7,609.6 893.7,586.2 893.8,586.2 893.8,585.5 894.4,585.5 894.4,578.1 895.0,578.1 895.0,569.7 895.0,569.7 895.0,569.2 895.6,569.2 895.6,563.0 896.2,563.0 896.2,556.4 896.3,556.4 896.3,556.3 896.8,556.3 896.8,550.0 897.4,550.0 897.4,544.3 897.6,544.3 897.6,541.7 898.0,541.7 898.0,540.6 898.6,540.6 898.6,539.4 898.8,539.4 898.8,538.8 899.2,538.8 899.2,534.2 899.7,534.2 899.7,525.8 899.8,525.8 899.8,525.3 900.3,525.3 900.3,513.0 900.4,513.0 900.4,513.7 900.8,513.7 900.8,513.2 901.0,513.2 901.0,517.3 901.4,517.3 901.4,526.7 901.6,526.7 901.6,528.6 902.2,528.6 902.2,535.2 902.7,535.2 902.7,540.9 902.8,540.9 902.8,541.2 903.4,541.2 903.4,542.9 903.6,542.9 903.6,542.3 904.0,542.3 904.0,545.6 904.6,545.6 904.6,550.8 904.6,550.8 904.6,551.2 905.2,551.2 905.2,554.0 905.8,554.0 905.8,557.0 905.9,557.0 905.9,558.8 906.4,558.8 906.4,562.9 906.9,562.9 906.9,567.8 907.0,567.8 907.0,568.3 907.6,568.3 907.6,576.0 907.8,576.0 907.8,578.9 908.2,578.9 908.2,590.4 908.2,590.4 908.2,591.7 908.5,591.7 908.5,598.0 908.8,598.0 908.8,597.4 909.4,597.4 909.4,596.2 909.7,596.2 909.7,595.4 910.0,595.4 910.0,595.0 910.6,595.0 910.6,593.4 911.0,593.4 911.0,592.5 911.2,592.5 911.2,591.6 911.8,591.6 911.8,590.4 912.3,590.4 912.3,589.3 912.4,589.3 912.4,588.6 913.0,588.6 913.0,588.2 913.6,588.2 913.6,589.5 914.2,589.5 914.2,589.1 914.2,589.1 914.2,589.1 914.8,589.1 914.8,588.1 915.4,588.1 915.4,587.3 916.0,587.3 916.0,586.5 916.2,586.5 916.2,586.3 916.6,586.3 916.6,585.3 917.2,585.3 917.2,582.7 917.7,582.7 917.7,581.4 917.8,581.4 917.8,581.3 918.4,581.3 918.4,580.3 919.0,580.3 919.0,578.9 919.4,578.9 919.4,578.3 919.6,578.3 919.6,578.1 920.2,578.1 920.2,576.6 920.8,576.6 920.8,576.2 921.3,576.2 921.3,575.9 921.4,575.9 921.4,577.0 922.0,577.0 922.0,577.4 922.6,577.4 922.6,577.8 923.2,577.8 923.2,578.2 923.2,578.2 923.2,577.0 923.8,577.0 923.8,578.2 924.4,578.2 924.4,579.4 924.5,579.4 924.5,579.6 925.0,579.6 925.0,581.0 925.4,581.0 925.4,582.5"/>
<polyline fill="none" stroke="#c8101f" stroke-width="1.35" stroke-linejoin="round" points="560.8,636.7 561.4,636.7 561.4,636.4 562.0,636.4 562.0,635.2 562.6,635.2 562.6,634.9 563.1,634.9 563.1,635.7 563.2,635.7 563.2,635.6 563.8,635.6 563.8,635.3 564.4,635.3 564.4,635.0 565.0,635.0 565.0,635.0 565.4,635.0 565.4,634.8 565.6,634.8 565.6,634.7 566.2,634.7 566.2,634.4 566.8,634.4 566.8,632.7 567.4,632.7 567.4,632.4 567.7,632.4 567.7,632.3 568.0,632.3 568.0,631.3 568.6,631.3 568.6,630.9 569.2,630.9 569.2,630.5 569.4,630.5 569.4,630.3 569.8,630.3 570.4,630.3 570.4,629.4 571.0,629.4 571.1,629.4 571.6,629.4 571.6,629.6 572.2,629.6 572.2,629.0 572.8,629.0 572.8,629.2 572.9,629.2 572.9,629.2 573.4,629.2 573.4,629.4 574.0,629.4 574.0,629.6 574.6,629.6 574.6,628.6 574.6,628.6 574.6,628.6 575.2,628.6 575.2,629.7 575.8,629.7 575.8,630.1 576.3,630.1 576.3,630.5 576.4,630.5 576.4,630.4 577.0,630.4 577.0,629.7 577.5,629.7 577.5,629.2 577.6,629.2 577.6,629.1 578.2,629.1 578.2,627.9 578.6,627.9 578.6,626.9 578.8,626.9 578.8,627.4 579.4,627.4 579.4,626.2 579.8,626.2 579.8,625.3 580.0,625.3 580.0,625.0 580.6,625.0 580.6,623.8 581.0,623.8 581.0,624.1 581.2,624.1 581.2,623.8 581.8,623.8 581.8,623.0 582.4,623.0 582.4,621.8 582.7,621.8 582.7,621.4 583.0,621.4 583.0,621.2 583.6,621.2 583.6,621.1 584.2,621.1 584.2,620.7 584.4,620.7 584.4,620.5 584.8,620.5 584.8,621.4 585.4,621.4 585.4,621.8 586.0,621.8 586.0,622.2 586.1,622.2 586.1,621.6 586.6,621.6 587.2,621.6 587.8,621.6 587.8,621.7 587.9,621.7 588.4,621.7 588.4,621.0 589.0,621.0 589.0,620.2 589.6,620.2 589.6,619.4 589.6,619.4 589.6,619.9 590.2,619.9 590.2,606.3 590.2,606.3 590.2,606.1 590.8,606.1 590.8,599.1 590.8,599.1 590.8,598.0 591.4,598.0 591.4,597.4 591.9,597.4 591.9,596.8 592.0,596.8 592.0,596.9 592.6,596.9 592.6,596.6 593.2,596.6 593.2,597.0 593.6,597.0 593.6,597.3 593.8,597.3 593.8,597.4 594.4,597.4 594.4,597.6 595.0,597.6 595.0,599.4 595.4,599.4 595.4,599.5 595.6,599.5 595.6,599.3 596.2,599.3 596.2,599.5 596.8,599.5 596.8,598.9 597.1,598.9 597.1,598.6 597.4,598.6 597.4,598.4 598.0,598.4 598.0,597.9 598.6,597.9 598.6,597.1 598.6,597.1 598.6,597.1 599.2,597.1 599.2,596.4 599.8,596.4 599.8,593.9 600.0,593.9 600.0,593.6 600.0,593.6 600.0,594.2 600.4,594.2 600.4,594.2 601.0,594.2 601.0,594.5 601.6,594.5 601.6,594.4 602.2,594.4 602.2,594.2 602.3,594.2 602.3,594.2 602.8,594.2 602.8,594.4 603.4,594.4 603.4,595.6 604.0,595.6 604.0,595.9 604.6,595.9 604.6,596.2 604.6,596.2 604.6,596.3 605.2,596.3 605.2,597.6 605.8,597.6 605.8,598.7 605.8,598.7 605.8,598.7 606.4,598.7 606.4,603.3 606.4,603.3 606.4,603.4 607.0,603.4 607.0,606.4 607.5,606.4 607.5,608.3 607.6,608.3 607.6,608.4 608.2,608.4 608.2,609.6 608.7,609.6 608.7,609.4 608.8,609.4 608.8,609.5 609.4,609.5 609.4,609.7 610.0,609.7 610.0,609.9 610.4,609.9 610.4,610.8 610.6,610.8 610.6,610.9 611.2,610.9 611.2,611.2 611.5,611.2 611.5,611.3 611.8,611.3 611.8,611.2 612.4,611.2 612.4,611.8 612.7,611.8 612.7,612.1 613.0,612.1 613.0,612.9 613.6,612.9 613.6,614.7 613.9,614.7 613.9,615.9 614.2,615.9 614.2,615.6 614.8,615.6 614.8,615.0 615.0,615.0 615.0,614.8 615.4,614.8 615.4,613.9 616.0,613.9 616.0,610.9 616.2,610.9 616.2,610.3 616.6,610.3 616.6,609.5 617.2,609.5 617.2,607.8 617.3,607.8 617.3,607.5 617.8,607.5 617.8,607.2 618.4,607.2 618.4,607.4 619.0,607.4 619.0,607.0 619.1,607.0 619.1,607.0 619.6,607.0 619.6,606.3 620.2,606.3 620.2,605.5 620.8,605.5 620.8,604.7 620.8,604.7 620.8,603.8 621.4,603.8 621.4,598.0 621.9,598.0 621.9,592.0 622.0,592.0 622.0,591.9 622.6,591.9 622.6,590.1 623.1,590.1 623.1,589.2 623.2,589.2 623.2,589.1 623.8,589.1 623.8,587.9 624.4,587.9 624.4,586.5 624.8,586.5 624.8,585.5 625.0,585.5 625.0,584.6 625.6,584.6 625.6,583.8 626.2,583.8 626.2,584.0 626.6,584.0 626.6,583.4 626.8,583.4 626.8,582.9 627.4,582.9 627.4,581.7 628.0,581.7 628.0,581.1 628.3,581.1 628.3,580.5 628.6,580.5 628.6,580.3 629.2,580.3 629.2,579.4 629.8,579.4 629.8,578.7 629.8,578.7 629.8,578.7 630.4,578.7 630.4,577.4 631.0,577.4 631.0,576.4 631.2,576.4 631.2,576.0 631.6,576.0 631.6,573.6 632.2,573.6 632.2,569.4 632.3,569.4 632.3,568.3 632.8,568.3 632.8,563.8 633.3,563.8 633.3,558.9 633.4,558.9 633.4,558.3 634.0,558.3 634.0,554.9 634.1,554.9 634.1,554.3 634.6,554.3 634.6,553.9 635.2,553.9 635.2,553.3 635.2,553.3 635.2,553.2 635.8,553.2 635.8,552.4 636.4,552.4 636.4,551.7 636.4,551.7 636.4,551.6 637.0,551.6 637.0,551.8 637.2,551.8 637.2,552.0 637.6,552.0 637.6,555.2 637.9,555.2 637.9,557.7 638.2,557.7 638.2,559.0 638.7,559.0 638.7,559.7 638.8,559.7 638.8,559.8 639.4,559.8 639.4,560.4 639.8,560.4 639.8,560.9 640.0,560.9 640.0,559.6 640.6,559.6 640.6,559.0 641.0,559.0 641.0,558.3 641.2,558.3 641.8,558.3 642.1,558.3 642.4,558.3 642.4,558.3 643.0,558.3 643.0,557.7 643.3,557.7 643.3,557.3 643.6,557.3 643.6,554.8 644.2,554.8 644.2,552.1 644.5,552.1 644.5,550.7 644.8,550.7 644.8,550.6 645.4,550.6 645.4,550.3 645.6,550.3 645.6,550.9 646.0,550.9 646.0,551.3 646.6,551.3 646.6,551.9 646.8,551.9 646.8,552.1 647.2,552.1 647.2,556.3 647.3,556.3 647.3,558.0 647.8,558.0 647.8,561.7 648.3,561.7 648.3,564.2 648.4,564.2 648.4,564.9 649.0,564.9 649.0,569.2 649.1,569.2 649.1,570.0 649.6,570.0 649.6,575.9 649.7,575.9 649.7,576.9 650.2,576.9 650.2,577.9 650.8,577.9 650.8,578.3 650.8,578.3 650.8,578.4 651.4,578.4 651.4,578.7 652.0,578.7 652.0,579.1 652.5,579.1 652.5,579.6 652.6,579.6 652.6,579.6 653.2,579.6 653.2,580.0 653.8,580.0 653.8,580.4 654.3,580.4 654.3,580.6 654.4,580.6 654.4,580.7 655.0,580.7 655.0,583.1 655.6,583.1 655.6,583.5 656.0,583.5 656.0,583.8 656.2,583.8 656.2,583.3 656.8,583.3 656.8,584.1 657.4,584.1 657.4,584.9 657.7,584.9 657.7,584.6 658.0,584.6 658.0,585.1 658.6,585.1 658.6,586.3 659.2,586.3 659.2,587.8 659.5,587.8 659.5,588.4 659.8,588.4 659.8,592.6 660.0,592.6 660.0,597.0 660.4,597.0 660.4,598.0 661.0,598.0 661.0,600.0 661.2,600.0 661.2,600.7 661.6,600.7 661.6,601.5 662.2,601.5 662.2,602.7 662.8,602.7 662.8,603.9 662.9,603.9 662.9,603.8 663.4,603.8 663.4,604.7 664.0,604.7 664.0,605.6 664.6,605.6 664.6,606.8 664.7,606.8 664.7,607.0 665.2,607.0 665.2,608.0 665.8,608.0 665.8,610.0 666.4,610.0 666.4,611.2 666.4,611.2 666.4,611.3 667.0,611.3 667.0,612.0 667.6,612.0 667.6,612.2 668.1,612.2 668.1,612.9 668.2,612.9 668.2,612.2 668.8,612.2 668.8,613.0 669.4,613.0 669.4,613.8 669.9,613.8 669.9,615.2 670.0,615.2 670.0,615.2 670.6,615.2 670.6,615.6 671.2,615.6 671.2,616.0 671.6,616.0 671.6,616.1 671.8,616.1 671.8,615.7 672.4,615.7 672.4,614.5 672.7,614.5 672.7,614.0 673.0,614.0 673.0,613.3 673.6,613.3 673.6,611.5 673.9,611.5 673.9,610.4 674.2,610.4 674.2,610.1 674.8,610.1 674.8,609.3 675.4,609.3 675.4,608.5 675.6,608.5 675.6,608.1 676.0,608.1 676.0,607.8 676.6,607.8 676.6,607.4 677.2,607.4 677.2,607.0 677.4,607.0 677.4,606.9 677.8,606.9 678.4,606.9 678.4,606.3 679.0,606.3 679.6,606.3 679.7,606.3 679.7,607.3 680.2,607.3 680.8,607.3 681.2,607.3 681.2,606.9 681.4,606.9 681.4,606.8 682.0,606.8 682.0,605.7 682.6,605.7 682.6,605.5 682.7,605.5 682.7,606.8 683.2,606.8 683.2,607.2 683.8,607.2 683.8,607.8 684.2,607.8 684.2,606.9 684.4,606.9 685.0,606.9 685.0,606.5 685.6,606.5 685.8,606.5 685.8,606.0 686.2,606.0 686.2,606.2 686.8,606.2 686.8,606.5 687.3,606.5 687.3,606.8 687.4,606.8 687.4,606.6 688.0,606.6 688.0,603.6 688.3,603.6 688.3,601.7 688.6,601.7 688.6,598.6 688.9,598.6 688.9,594.5 689.2,594.5 689.2,596.3 689.4,596.3 689.4,599.0 689.8,599.0 689.8,599.4 690.4,599.4 690.4,600.2 690.4,600.2 690.4,600.2 691.0,600.2 691.0,599.9 691.6,599.9 691.6,600.2 692.2,600.2 692.2,602.0 692.5,602.0 692.5,602.1 692.8,602.1 692.8,602.3 693.4,602.3 693.4,602.7 694.0,602.7 694.0,603.1 694.0,603.1 694.0,603.9 694.6,603.9 694.6,603.7 695.2,603.7 695.2,603.5 695.5,603.5 695.5,603.4 695.8,603.4 695.8,603.0 696.4,603.0 696.4,602.1 696.6,602.1 696.6,601.8 697.0,601.8 697.0,601.0 697.6,601.0 697.6,600.1 697.6,600.1 697.6,600.1 698.2,600.1 698.2,598.5 698.8,598.5 698.8,598.1 699.1,598.1 699.1,597.9 699.4,597.9 699.4,598.0 700.0,598.0 700.0,598.6 700.6,598.6 700.6,598.8 700.7,598.8 700.7,598.6 701.2,598.6 701.2,598.7 701.8,598.7 701.8,598.9 702.2,598.9 702.2,598.8 702.4,598.8 702.4,599.0 703.0,599.0 703.0,599.8 703.6,599.8 703.6,600.6 703.7,600.6 703.7,600.2 704.2,600.2 704.2,604.4 704.6,604.4 704.6,608.4 704.8,608.4 704.8,609.5 705.3,609.5 705.3,612.5 705.4,612.5 705.4,612.2 706.0,612.2 706.0,611.0 706.3,611.0 706.3,610.3 706.6,610.3 706.6,610.1 707.2,610.1 707.2,609.1 707.3,609.1 707.3,608.9 707.8,608.9 708.4,608.9 708.9,608.9 709.0,608.9 709.0,609.5 709.6,609.5 709.6,609.9 710.2,609.9 710.4,609.9 710.4,610.0 710.8,610.0 710.8,609.8 711.4,609.8 711.4,610.2 712.0,610.2 712.0,610.6 712.0,610.6 712.0,610.6 712.6,610.6 712.6,611.8 713.0,611.8 713.0,612.4 713.2,612.4 713.2,612.3 713.8,612.3 713.8,611.9 714.4,611.9 714.4,611.7 714.5,611.7 714.5,611.6 715.0,611.6 715.0,611.4 715.6,611.4 715.6,611.2 716.1,611.2 716.1,611.1 716.2,611.1 716.2,611.0 716.8,611.0 716.8,610.4 717.4,610.4 717.4,609.8 717.6,609.8 717.6,609.6 718.0,609.6 718.0,608.4 718.6,608.4 718.6,606.4 719.1,606.4 719.1,603.8 719.2,603.8 719.8,603.8 719.8,604.0 720.4,604.0 720.4,604.2 720.7,604.2 720.7,604.3 721.0,604.3 721.0,605.3 721.6,605.3 721.6,605.7 722.2,605.7 722.2,606.1 722.2,606.1 722.2,606.1 722.8,606.1 722.8,606.3 723.4,606.3 723.4,607.2 723.8,607.2 723.8,607.3 724.0,607.3 724.0,607.5 724.6,607.5 724.6,607.9 725.2,607.9 725.2,608.3 725.3,608.3 725.3,608.1 725.8,608.1 725.8,607.8 726.4,607.8 726.4,607.4 726.8,607.4 726.8,607.1 727.0,607.1 727.0,607.2 727.6,607.2 727.6,606.4 728.2,606.4 728.2,606.8 728.4,606.8 728.4,607.0 728.8,607.0 728.8,607.2 729.4,607.2 729.4,607.6 729.9,607.6 729.9,608.6 730.0,608.6 730.0,608.6 730.6,608.6 730.6,608.0 731.0,608.0 731.0,607.2 731.2,607.2 731.2,606.8 731.8,606.8 731.8,605.6 732.0,605.6 732.0,604.9 732.4,604.9 732.4,604.3 733.0,604.3 733.0,603.5 733.5,603.5 733.5,602.8 733.6,602.8 733.6,602.7 734.2,602.7 734.2,601.2 734.5,601.2 734.5,600.1 734.8,600.1 734.8,598.6 735.4,598.6 735.4,597.0 736.0,597.0 736.0,595.1 736.1,595.1 736.1,594.8 736.6,594.8 736.6,592.8 737.2,592.8 737.2,591.6 737.6,591.6 737.6,590.7 737.8,590.7 737.8,593.3 738.4,593.3 738.4,592.5 739.0,592.5 739.0,591.7 739.2,591.7 739.2,591.5 739.6,591.5 739.6,591.0 740.2,591.0 740.2,591.6 740.8,591.6 740.8,591.0 741.4,591.0 741.4,589.3 741.4,589.3 741.4,589.3 742.0,589.3 742.0,583.7 742.6,583.7 742.6,578.5 743.2,578.5 743.2,572.5 743.5,572.5 743.5,569.6 743.8,569.6 743.8,563.9 744.4,563.9 744.4,552.5 744.9,552.5 744.9,542.6 745.0,542.6 745.0,541.4 745.6,541.4 745.6,530.6 745.9,530.6 745.9,524.2 746.2,524.2 746.2,523.9 746.8,523.9 746.8,522.8 747.4,522.8 747.4,521.7 747.6,521.7 747.6,521.7 748.0,521.7 748.0,521.1 748.6,521.1 748.6,520.2 749.2,520.2 749.2,519.3 749.6,519.3 749.6,518.6 749.8,518.6 749.8,519.0 750.4,519.0 750.4,518.4 751.0,518.4 751.0,517.8 751.6,517.8 751.6,517.2 751.7,517.2 751.7,517.2 752.2,517.2 752.2,514.2 752.7,514.2 752.7,511.1 752.8,511.1 753.4,511.1 753.4,509.0 754.0,509.0 754.0,506.9 754.6,506.9 754.6,503.8 754.7,503.8 754.7,503.2 755.2,503.2 755.2,502.8 755.8,502.8 755.8,502.2 756.4,502.2 756.4,501.6 756.8,501.6 756.8,501.4 757.0,501.4 757.0,501.2 757.6,501.2 757.6,500.3 758.2,500.3 758.2,498.7 758.2,498.7 758.2,498.6 758.8,498.6 758.8,500.2 759.4,500.2 759.4,502.1 759.9,502.1 759.9,503.7 760.0,503.7 760.0,503.6 760.6,503.6 760.6,504.8 760.9,504.8 760.9,505.5 761.2,505.5 761.2,506.6 761.8,506.6 761.8,509.2 762.3,509.2 762.3,511.7 762.4,511.7 763.0,511.7 763.6,511.7 763.6,511.5 763.6,511.5 763.6,511.4 764.2,511.4 764.2,507.1 764.8,507.1 764.8,502.9 765.0,502.9 765.0,501.4 765.4,501.4 765.4,500.9 766.0,500.9 766.0,500.2 766.6,500.2 766.6,499.4 766.6,499.4 766.6,499.3 767.2,499.3 767.2,501.5 767.8,501.5 767.8,504.1 768.1,504.1 768.1,505.4 768.4,505.4 768.4,506.1 769.0,506.1 769.0,507.6 769.6,507.6 769.6,510.4 769.7,510.4 769.7,510.7 770.2,510.7 770.2,511.4 770.8,511.4 770.8,512.2 771.2,512.2 771.2,512.8 771.4,512.8 771.4,512.5 772.0,512.5 772.0,514.2 772.6,514.2 772.6,516.6 772.6,516.6 772.6,516.6 773.2,516.6 773.2,517.3 773.8,517.3 773.8,517.4 774.2,517.4 774.2,518.0 774.4,518.0 774.4,518.5 775.0,518.5 775.0,520.7 775.6,520.7 775.6,523.0 775.9,523.0 775.9,523.9 776.2,523.9 776.2,526.5 776.8,526.5 776.8,531.2 777.3,531.2 777.3,535.9 777.4,535.9 777.4,536.1 778.0,536.1 778.0,538.7 778.6,538.7 778.6,541.3 778.7,541.3 778.7,542.9 779.2,542.9 779.2,542.4 779.8,542.4 779.8,541.7 780.4,541.7 780.4,540.8 780.4,540.8 780.4,540.8 781.0,540.8 781.0,543.7 781.6,543.7 781.6,546.4 782.0,546.4 782.0,548.7 782.2,548.7 782.2,549.1 782.8,549.1 782.8,550.8 783.4,550.8 783.4,552.6 783.5,552.6 783.5,554.1 784.0,554.1 784.0,553.3 784.6,553.3 784.6,551.2 784.9,551.2 784.9,550.8 785.2,550.8 785.2,544.9 785.8,544.9 785.8,531.9 786.1,531.9 786.1,524.1 786.4,524.1 786.4,524.2 787.0,524.2 787.0,523.3 787.6,523.3 787.6,522.5 787.6,522.5 787.6,521.1 788.2,521.1 788.8,521.1 789.4,521.1 789.6,521.1 789.6,521.3 790.0,521.3 790.0,521.6 790.6,521.6 790.6,522.2 791.2,522.2 791.2,522.0 791.7,522.0 791.7,522.5 791.8,522.5 791.8,522.6 792.4,522.6 792.4,523.2 793.0,523.2 793.0,523.8 793.6,523.8 793.6,524.8 793.7,524.8 793.7,525.0 794.2,525.0 794.2,525.4 794.8,525.4 794.8,526.0 795.4,526.0 795.4,526.6 795.8,526.6 795.8,526.9 796.0,526.9 796.0,527.1 796.6,527.1 796.6,527.7 797.2,527.7 797.2,528.3 797.8,528.3 797.8,528.9 797.8,528.9 797.8,529.2 798.4,529.2 798.4,530.0 799.0,530.0 799.0,530.8 799.3,530.8 799.3,531.2 799.6,531.2 799.6,532.3 800.2,532.3 800.2,535.4 800.5,535.4 800.5,536.5 800.8,536.5 800.8,540.7 801.3,540.7 801.3,550.0 801.4,550.0 801.4,550.8 802.0,550.8 802.0,558.8 802.5,558.8 802.5,566.4 802.6,566.4 802.6,566.0 803.2,566.0 803.2,569.4 803.8,569.4 803.8,573.3 804.0,573.3 804.0,574.5 804.4,574.5 804.4,574.8 805.0,574.8 805.0,576.5 805.4,576.5 805.4,577.8 805.6,577.8 805.6,577.4 806.2,577.4 806.2,575.9 806.8,575.9 806.8,575.7 807.1,575.7 807.1,575.0 807.4,575.0 807.4,574.2 808.0,574.2 808.0,572.7 808.6,572.7 808.6,571.2 808.7,571.2 808.7,569.7 809.2,569.7 809.2,571.0 809.8,571.0 809.8,572.7 810.1,572.7 810.1,573.8 810.4,573.8 810.4,574.5 811.0,574.5 811.0,575.4 811.6,575.4 811.6,575.4 812.2,575.4 812.2,575.1 812.8,575.1 812.8,574.8 813.1,574.8 813.1,575.1 813.4,575.1 813.4,575.5 814.0,575.5 814.0,576.4 814.5,576.4 814.5,577.2 814.6,577.2 814.6,577.2 815.2,577.2 815.2,578.9 815.8,578.9 815.8,579.7 816.2,579.7 816.2,580.1 816.4,580.1 816.4,580.4 817.0,580.4 817.0,580.1 817.6,580.1 817.6,580.9 817.8,580.9 817.8,581.2 818.2,581.2 818.2,578.8 818.8,578.8 818.8,577.1 819.2,577.1 819.2,576.3 819.4,576.3 819.4,575.7 820.0,575.7 820.0,573.1 820.6,573.1 820.6,570.6 820.7,570.6 820.7,570.1 821.2,570.1 821.2,570.2 821.8,570.2 821.8,569.4 822.3,569.4 822.3,568.7 822.4,568.7 822.4,568.8 823.0,568.8 823.0,569.8 823.6,569.8 823.6,570.5 823.9,570.5 823.9,571.0 824.2,571.0 824.2,571.6 824.8,571.6 824.8,573.3 825.4,573.3 825.4,575.4 825.4,575.4 825.4,575.4 826.0,575.4 826.0,575.4 826.6,575.4 826.6,576.2 826.8,576.2 826.8,576.6 827.2,576.6 827.2,577.0 827.8,577.0 827.8,577.8 828.4,577.8 828.4,579.2 828.5,579.2 828.5,579.3 829.0,579.3 829.0,579.8 829.6,579.8 829.6,580.4 830.2,580.4 830.2,581.0 830.5,581.0 830.5,581.4 830.8,581.4 830.8,581.2 831.4,581.2 831.4,580.6 832.0,580.6 832.0,580.0 832.6,580.0 832.6,579.4 832.6,579.4 832.6,580.2 833.2,580.2 833.2,580.8 833.8,580.8 833.8,581.4 834.4,581.4 834.4,580.7 834.6,580.7 834.6,580.9 835.0,580.9 835.0,576.9 835.0,576.9 835.0,576.6 835.6,576.6 835.6,579.2 836.2,579.2 836.2,582.0 836.3,582.0 836.3,582.7 836.8,582.7 836.8,583.0 837.4,583.0 837.4,583.4 837.7,583.4 837.7,583.6 838.0,583.6 838.0,584.6 838.6,584.6 838.6,585.4 839.0,585.4 839.0,586.0 839.2,586.0 839.2,586.2 839.8,586.2 839.8,586.3 840.4,586.3 840.4,587.1 840.4,587.1 840.4,586.5 841.0,586.5 841.0,586.8 841.6,586.8 841.6,587.1 842.2,587.1 842.2,586.8 842.2,586.8 842.8,586.8 842.8,588.3 843.4,588.3 843.4,590.8 843.5,590.8 843.5,591.2 844.0,591.2 844.0,589.6 844.6,589.6 844.6,587.6 844.9,587.6 844.9,586.6 845.2,586.6 845.2,586.2 845.8,586.2 845.8,585.4 846.2,585.4 846.4,585.4 847.0,585.4 847.6,585.4 847.6,585.1 847.6,585.1 848.2,585.1 848.2,584.6 848.8,584.6 848.8,584.2 848.9,584.2 848.9,583.6 849.4,583.6 849.4,583.3 850.0,583.3 850.0,582.9 850.3,582.9 850.3,582.7 850.6,582.7 850.6,582.9 851.2,582.9 851.2,585.3 851.2,585.3 851.2,585.3 851.8,585.3 851.8,588.0 852.1,588.0 852.1,589.1 852.4,589.1 852.4,589.8 853.0,589.8 853.0,590.9 853.0,590.9 853.0,591.0 853.6,591.0 853.6,593.2 854.2,593.2 854.2,594.8 854.3,594.8 854.3,595.1 854.8,595.1 854.8,595.8 855.4,595.8 855.4,597.2 855.6,597.2 855.6,597.5 856.0,597.5 856.0,597.7 856.6,597.7 856.6,598.0 857.2,598.0 857.2,599.0 857.4,599.0 857.4,599.2 857.8,599.2 857.8,599.3 858.4,599.3 858.4,599.6 859.0,599.6 859.0,599.9 859.2,599.9 859.2,601.3 859.6,601.3 859.6,603.2 860.1,603.2 860.1,606.6 860.2,606.6 860.2,606.8 860.8,606.8 860.8,609.8 861.0,609.8 861.0,609.7 861.4,609.7 861.4,610.1 862.0,610.1 862.0,610.9 862.4,610.9 862.4,612.0 862.6,612.0 862.6,612.2 863.2,612.2 863.2,612.5 863.7,612.5 863.7,613.3 863.8,613.3 863.8,613.3 864.4,613.3 864.4,612.4 865.0,612.4 865.0,612.8 865.1,612.8 865.1,612.9 865.6,612.9 865.6,613.2 866.2,613.2 866.2,614.1 866.4,614.1 866.4,614.3 866.8,614.3 867.4,614.3 867.4,613.6 867.8,613.6 868.0,613.6 868.0,613.4 868.6,613.4 868.6,614.4 869.1,614.4 869.1,614.0 869.2,614.0 869.2,613.9 869.8,613.9 869.8,612.3 870.4,612.3 870.4,611.0 870.5,611.0 870.5,610.8 871.0,610.8 871.0,608.2 871.4,608.2 871.4,606.3 871.6,606.3 871.6,605.7 872.2,605.7 872.2,603.0 872.7,603.0 872.7,601.6 872.8,601.6 872.8,601.5 873.4,601.5 873.4,601.2 874.0,601.2 874.0,600.9 874.5,600.9 874.5,600.6 874.6,600.6 875.2,600.6 875.8,600.6 875.8,601.9 876.3,601.9 876.4,601.9 876.4,602.0 877.0,602.0 877.0,602.3 877.6,602.3 877.6,602.6 878.1,602.6 878.1,602.7 878.2,602.7 878.2,602.8 878.8,602.8 878.8,603.6 879.4,603.6 879.4,604.4 879.4,604.4 879.4,602.8 880.0,602.8 880.0,603.2 880.6,603.2 880.6,603.4 880.8,603.4 880.8,603.5 881.2,603.5 881.8,603.5 881.8,604.4 882.4,604.4 882.6,604.4 883.0,604.4 883.6,604.4 883.6,605.2 884.2,605.2 884.4,605.2 884.8,605.2 884.8,605.8 885.4,605.8 885.4,606.7 886.0,606.7 886.0,607.3 886.2,607.3 886.2,607.6 886.6,607.6 886.6,610.0 887.1,610.0 887.1,612.5 887.2,612.5 887.2,613.1 887.8,613.1 887.8,616.7 888.0,616.7 888.0,617.9 888.4,617.9 888.4,618.3 888.9,618.3 888.9,619.3 889.0,619.3 889.6,619.3 889.6,619.6 890.2,619.6 890.7,619.6 890.8,619.6 890.8,619.4 891.4,619.4 891.4,619.1 892.0,619.1 892.0,618.8 892.5,618.8 892.5,618.5 892.6,618.5 892.6,618.8 893.2,618.8 893.2,613.4 893.3,613.4 893.3,611.8 893.7,611.8 893.7,593.8 893.8,593.8 893.8,593.6 894.4,593.6 894.4,591.6 895.0,591.6 895.0,589.2 895.0,589.2 895.0,588.0 895.6,588.0 895.6,585.2 896.2,585.2 896.2,582.2 896.3,582.2 896.3,581.6 896.8,581.6 896.8,579.2 897.4,579.2 897.4,575.8 897.6,575.8 897.6,574.9 898.0,574.9 898.0,573.7 898.5,573.7 898.5,572.3 898.6,572.3 898.6,569.4 899.2,569.4 899.2,562.6 899.5,562.6 899.5,559.0 899.8,559.0 899.8,556.8 900.1,556.8 900.1,554.5 900.4,554.5 900.4,554.2 901.0,554.2 901.0,553.3 901.4,553.3 901.4,552.6 901.6,552.6 901.6,552.9 902.2,552.9 902.2,552.3 902.8,552.3 902.8,551.7 903.3,551.7 903.3,552.0 903.4,552.0 903.4,552.0 904.0,552.0 904.0,551.7 904.6,551.7 904.6,551.0 904.6,551.0 904.6,551.0 905.2,551.0 905.2,550.6 905.8,550.6 905.8,550.2 906.4,550.2 906.4,550.1 906.5,550.1 906.5,550.0 907.0,550.0 907.0,549.8 907.6,549.8 907.6,549.6 908.2,549.6 908.2,549.6 908.2,549.6 908.2,549.6 908.8,549.6 908.8,549.2 909.1,549.2 909.1,549.0 909.4,549.0 909.4,551.4 909.7,551.4 909.7,554.1 910.0,554.1 910.0,555.8 910.6,555.8 910.6,560.9 910.8,560.9 910.8,562.4 911.2,562.4 911.2,564.7 911.7,564.7 911.7,567.4 911.8,567.4 911.8,567.8 912.4,567.8 912.4,570.2 912.9,570.2 912.9,572.5 913.0,572.5 913.0,572.6 913.6,572.6 913.6,573.8 914.2,573.8 914.2,575.0 914.2,575.0 914.2,575.2 914.8,575.2 914.8,577.3 914.9,577.3 914.9,578.1 915.4,578.1 915.4,582.1 915.5,582.1 915.5,583.6 916.0,583.6 916.0,589.1 916.2,589.1 916.2,591.3 916.6,591.3 916.6,591.9 917.2,591.9 917.2,591.5 917.2,591.5 917.2,591.5 917.8,591.5 917.8,590.7 918.1,590.7 918.1,590.2 918.4,590.2 918.4,589.8 919.0,589.8 919.0,587.9 919.0,587.9 919.0,587.9 919.6,587.9 919.6,585.7 920.0,585.7 920.0,584.9 920.2,584.9 920.2,585.1 920.8,585.1 920.8,585.7 921.3,585.7 921.3,586.2 921.4,586.2 921.4,586.0 922.0,586.0 922.0,584.7 922.6,584.7 922.6,583.6 922.6,583.6 923.2,583.6 923.2,583.0 923.8,583.0 923.8,582.4 923.8,582.4 923.8,581.7 924.4,581.7 924.4,582.8 925.0,582.8 925.0,583.6 925.1,583.6 925.1,583.9 925.6,583.9 925.6,585.7 925.8,585.7 925.8,586.5"/>
<polyline fill="none" stroke="#333333" stroke-width="1.3" stroke-linejoin="round" points="560.8,635.6 561.4,635.6 561.4,635.4 562.0,635.4 562.0,635.3 562.6,635.3 562.6,635.1 563.1,635.1 563.1,635.6 563.2,635.6 563.2,635.6 563.8,635.6 563.8,635.3 564.4,635.3 564.4,635.0 565.0,635.0 565.0,634.7 565.4,634.7 565.4,634.2 565.6,634.2 565.6,634.1 566.2,634.1 566.2,633.6 566.8,633.6 566.8,633.3 567.4,633.3 567.4,633.0 567.7,633.0 567.7,632.8 568.0,632.8 568.0,632.7 568.6,632.7 568.6,632.3 569.2,632.3 569.2,632.0 569.8,632.0 569.8,631.7 570.0,631.7 570.0,631.6 570.4,631.6 570.4,631.5 571.0,631.5 571.0,631.7 571.6,631.7 571.6,631.5 572.2,631.5 572.2,631.4 572.3,631.4 572.3,631.4 572.8,631.4 572.8,631.2 573.4,631.2 573.4,630.2 574.0,630.2 574.0,630.0 574.6,630.0 574.6,629.9 574.6,629.9 574.6,630.6 575.2,630.6 575.2,630.3 575.8,630.3 575.8,630.0 576.4,630.0 576.4,630.1 576.9,630.1 576.9,629.8 577.0,629.8 577.0,629.2 577.6,629.2 578.1,629.2 578.1,629.9 578.2,629.9 578.2,629.8 578.8,629.8 578.8,630.1 579.2,630.1 579.2,629.6 579.4,629.6 579.4,629.3 580.0,629.3 580.0,628.1 580.4,628.1 580.4,627.1 580.6,627.1 580.6,627.0 581.2,627.0 581.2,626.6 581.8,626.6 581.8,626.2 582.1,626.2 582.1,624.7 582.4,624.7 582.4,624.6 583.0,624.6 583.0,624.4 583.6,624.4 583.6,624.2 583.8,624.2 583.8,624.1 584.2,624.1 584.2,622.9 584.8,622.9 584.8,622.5 585.4,622.5 585.4,622.1 585.6,622.1 585.6,622.0 586.0,622.0 586.6,622.0 586.6,621.6 587.2,621.6 587.3,621.6 587.8,621.6 587.8,621.1 588.4,621.1 588.4,620.5 589.0,620.5 589.0,619.5 589.0,619.5 589.0,619.5 589.6,619.5 589.6,614.0 590.2,614.0 590.2,608.0 590.2,608.0 590.2,607.9 590.8,607.9 590.8,608.0 591.3,608.0 591.3,607.2 591.4,607.2 591.4,607.1 592.0,607.1 592.0,606.9 592.6,606.9 592.6,606.3 593.1,606.3 593.1,605.8 593.2,605.8 593.2,605.7 593.8,605.7 593.8,605.5 594.4,605.5 594.4,605.3 594.8,605.3 594.8,605.1 595.0,605.1 595.0,605.0 595.6,605.0 595.6,604.7 596.2,604.7 596.2,604.1 596.5,604.1 596.5,603.8 596.8,603.8 596.8,603.7 597.4,603.7 597.4,603.4 598.0,603.4 598.0,604.3 598.6,604.3 598.6,604.0 598.8,604.0 598.8,603.9 599.2,603.9 599.2,603.6 599.8,603.6 599.8,601.9 600.0,601.9 600.0,601.7 600.4,601.7 601.0,601.7 601.6,601.7 601.6,602.1 602.2,602.1 602.3,602.1 602.8,602.1 602.8,602.3 603.4,602.3 603.4,602.6 604.0,602.6 604.0,601.9 604.6,601.9 604.6,602.2 604.6,602.2 604.6,601.8 605.2,601.8 605.2,602.3 605.8,602.3 605.8,602.9 606.4,602.9 606.4,603.5 606.9,603.5 606.9,605.1 607.0,605.1 607.0,605.1 607.6,605.1 607.6,604.7 608.2,604.7 608.2,604.2 608.7,604.2 608.7,603.9 608.8,603.9 608.8,603.8 609.4,603.8 609.4,603.6 610.0,603.6 610.0,604.5 610.4,604.5 610.4,604.4 610.6,604.4 610.6,603.8 611.2,603.8 611.2,603.7 611.8,603.7 611.8,603.5 612.4,603.5 612.4,602.2 612.7,602.2 612.7,602.2 613.0,602.2 613.0,602.3 613.6,602.3 613.6,602.7 614.2,602.7 614.2,602.2 614.4,602.2 614.4,602.4 614.8,602.4 614.8,604.4 615.4,604.4 615.4,608.0 615.6,608.0 615.6,610.1 616.0,610.1 616.0,609.7 616.6,609.7 616.6,609.1 616.7,609.1 616.7,608.9 617.2,608.9 617.2,608.4 617.8,608.4 617.8,608.2 618.4,608.2 618.4,607.4 618.5,607.4 618.5,607.1 619.0,607.1 619.0,606.8 619.6,606.8 619.6,606.4 620.2,606.4 620.2,606.2 620.2,606.2 620.2,606.2 620.8,606.2 620.8,604.9 621.4,604.9 621.4,603.7 621.4,603.7 621.4,604.5 622.0,604.5 622.0,602.7 622.5,602.7 622.5,600.3 622.6,600.3 622.6,600.2 623.2,600.2 623.2,599.4 623.8,599.4 623.8,598.6 624.2,598.6 624.2,597.9 624.4,597.9 624.4,597.4 625.0,597.4 625.0,596.8 625.6,596.8 625.6,596.2 626.2,596.2 626.2,595.6 626.6,595.6 626.6,594.3 626.8,594.3 626.8,593.9 627.4,593.9 627.4,593.0 628.0,593.0 628.0,592.1 628.6,592.1 628.6,591.3 628.9,591.3 628.9,590.8 629.2,590.8 629.2,590.2 629.8,590.2 629.8,589.8 630.4,589.8 630.4,588.6 630.6,588.6 630.6,588.3 631.0,588.3 631.0,586.9 631.6,586.9 631.6,584.5 631.8,584.5 631.8,583.8 632.2,583.8 632.2,578.5 632.6,578.5 632.6,573.4 632.8,573.4 632.8,572.7 633.4,572.7 633.4,570.4 633.5,570.4 633.5,570.0 634.0,570.0 634.0,569.3 634.6,569.3 634.6,568.5 635.2,568.5 635.2,567.7 635.2,567.7 635.2,568.2 635.8,568.2 635.8,567.8 636.4,567.8 636.4,567.4 637.0,567.4 637.0,567.0 637.0,567.0 637.0,566.5 637.6,566.5 637.6,566.2 638.2,566.2 638.2,565.9 638.8,565.9 638.8,565.6 639.3,565.6 639.3,565.3 639.4,565.3 639.4,566.7 640.0,566.7 640.0,567.1 640.6,567.1 640.6,567.5 641.0,567.5 641.0,567.8 641.2,567.8 641.2,567.6 641.8,567.6 641.8,566.2 642.1,566.2 642.1,565.8 642.4,565.8 642.4,565.7 643.0,565.7 643.0,565.1 643.6,565.1 643.6,564.5 643.9,564.5 643.9,564.2 644.2,564.2 644.2,563.2 644.8,563.2 644.8,562.6 645.4,562.6 645.4,562.0 645.6,562.0 645.6,562.2 646.0,562.2 646.6,562.2 646.8,562.2 647.2,562.2 647.2,562.1 647.8,562.1 647.8,562.4 647.9,562.4 647.9,562.5 648.4,562.5 648.4,562.6 649.0,562.6 649.0,563.1 649.6,563.1 649.6,563.3 649.7,563.3 649.7,563.3 650.2,563.3 650.2,563.5 650.8,563.5 650.8,564.2 651.4,564.2 651.4,564.4 651.4,564.4 652.0,564.4 652.0,564.6 652.6,564.6 652.6,564.8 653.1,564.8 653.1,565.0 653.2,565.0 653.2,564.4 653.8,564.4 653.8,564.8 654.4,564.8 654.4,565.2 654.8,565.2 654.8,566.1 655.0,566.1 655.0,566.2 655.6,566.2 655.6,566.2 656.2,566.2 656.2,566.6 656.6,566.6 656.6,566.9 656.8,566.9 656.8,567.6 657.4,567.6 657.4,569.7 657.7,569.7 657.7,571.2 658.0,571.2 658.0,574.9 658.3,574.9 658.3,580.4 658.6,580.4 658.6,581.0 659.2,581.0 659.2,582.8 659.5,582.8 659.5,583.7 659.8,583.7 659.8,584.3 660.4,584.3 660.4,585.5 661.0,585.5 661.0,586.6 661.2,586.6 661.2,587.0 661.6,587.0 661.6,586.5 662.2,586.5 662.2,587.1 662.8,587.1 662.8,587.4 663.4,587.4 663.4,588.0 663.5,588.0 663.5,588.2 664.0,588.2 664.0,588.6 664.6,588.6 664.6,589.7 665.2,589.7 665.2,590.3 665.8,590.3 665.8,590.9 665.8,590.9 665.8,591.0 666.4,591.0 666.4,593.0 667.0,593.0 667.0,594.2 667.6,594.2 667.6,595.3 667.6,595.3 667.6,595.2 668.2,595.2 668.2,597.2 668.8,597.2 668.8,599.2 669.3,599.2 669.3,600.9 669.4,600.9 669.4,601.7 670.0,601.7 670.0,603.5 670.4,603.5 670.4,604.9 670.6,604.9 670.6,605.0 671.2,605.0 671.2,605.3 671.8,605.3 671.8,605.7 672.2,605.7 672.2,606.5 672.4,606.5 672.4,606.3 673.0,606.3 673.0,605.9 673.6,605.9 673.6,605.3 673.9,605.3 673.9,605.1 674.2,605.1 674.2,605.2 674.8,605.2 674.8,605.3 675.4,605.3 675.4,605.8 676.0,605.8 676.0,605.9 676.2,605.9 676.2,606.0 676.6,606.0 676.6,605.7 677.2,605.7 677.2,606.0 677.8,606.0 677.8,607.0 678.4,607.0 678.4,607.3 678.5,607.3 678.5,606.3 679.0,606.3 679.6,606.3 679.7,606.3 679.7,605.7 680.2,605.7 680.2,606.5 680.8,606.5 680.8,607.5 681.2,607.5 681.2,608.2 681.4,608.2 681.4,608.3 682.0,608.3 682.0,609.4 682.6,609.4 682.6,609.8 682.7,609.8 682.7,608.8 683.2,608.8 683.2,609.0 683.8,609.0 683.8,609.2 684.2,609.2 684.2,609.4 684.4,609.4 684.4,609.8 685.0,609.8 685.0,610.0 685.6,610.0 685.6,610.2 685.8,610.2 685.8,610.2 686.2,610.2 686.8,610.2 686.8,610.1 687.3,610.1 687.4,610.1 687.4,610.1 688.0,610.1 688.0,609.7 688.1,609.7 688.1,610.0 688.6,610.0 688.6,603.6 688.9,603.6 688.9,599.2 689.2,599.2 689.2,599.3 689.8,599.3 689.8,598.7 689.9,598.7 689.9,598.6 690.4,598.6 690.4,598.8 691.0,598.8 691.0,599.4 691.4,599.4 691.4,599.6 691.6,599.6 691.6,599.6 692.2,599.6 692.2,598.9 692.8,598.9 692.8,599.0 693.4,599.0 693.4,599.2 693.5,599.2 693.5,599.2 694.0,599.2 694.0,599.0 694.6,599.0 694.6,599.2 695.2,599.2 695.2,600.4 695.5,600.4 695.5,600.5 695.8,600.5 695.8,600.4 696.4,600.4 696.4,600.2 697.0,600.2 697.0,599.6 697.1,599.6 697.1,599.5 697.6,599.5 697.6,599.8 698.1,599.8 698.1,600.1 698.2,600.1 698.2,600.0 698.8,600.0 698.8,601.0 699.4,601.0 699.4,602.0 699.6,602.0 699.6,602.5 700.0,602.5 700.0,602.9 700.6,602.9 700.6,603.6 701.2,603.6 701.2,604.4 701.2,604.4 701.2,604.4 701.8,604.4 701.8,604.6 702.4,604.6 702.4,604.8 702.7,604.8 702.7,605.5 703.0,605.5 703.0,605.6 703.6,605.6 703.6,605.8 704.2,605.8 704.2,606.0 704.3,606.0 704.3,606.0 704.8,606.0 704.8,605.1 705.3,605.1 705.3,603.5 705.4,603.5 705.4,603.5 706.0,603.5 706.0,603.1 706.6,603.1 706.6,602.7 706.8,602.7 706.8,601.5 707.2,601.5 707.8,601.5 708.4,601.5 708.9,601.5 709.0,601.5 709.0,601.7 709.6,601.7 709.6,601.6 710.2,601.6 710.2,601.4 710.8,601.4 710.8,601.9 710.9,601.9 710.9,601.9 711.4,601.9 711.4,602.0 712.0,602.0 712.0,602.2 712.5,602.2 712.5,602.4 712.6,602.4 712.6,603.1 713.2,603.1 713.2,607.3 713.5,607.3 713.5,609.6 713.8,609.6 713.8,610.7 714.4,610.7 714.4,611.6 714.5,611.6 714.5,611.8 715.0,611.8 715.0,611.6 715.6,611.6 715.6,610.4 715.6,610.4 716.2,610.4 716.2,610.5 716.8,610.5 717.1,610.5 717.4,610.5 717.4,610.0 718.0,610.0 718.0,609.4 718.1,609.4 718.1,609.3 718.6,609.3 718.6,608.4 719.1,608.4 719.1,607.2 719.2,607.2 719.2,607.1 719.8,607.1 720.4,607.1 720.4,607.1 720.7,607.1 721.0,607.1 721.0,607.3 721.6,607.3 721.6,607.4 722.2,607.4 722.2,607.8 722.2,607.8 722.2,607.9 722.8,607.9 722.8,608.1 723.4,608.1 723.4,608.3 723.8,608.3 723.8,608.4 724.0,608.4 724.0,608.4 724.6,608.4 724.6,609.3 725.2,609.3 725.2,609.1 725.3,609.1 725.3,609.2 725.8,609.2 725.8,609.4 726.4,609.4 726.4,609.6 726.8,609.6 726.8,609.7 727.0,609.7 727.0,610.5 727.6,610.5 727.6,610.7 728.2,610.7 728.2,610.9 728.4,610.9 728.4,610.9 728.8,610.9 729.4,610.9 729.4,611.5 729.9,611.5 730.0,611.5 730.0,610.7 730.6,610.7 731.0,610.7 731.0,610.6 731.2,610.6 731.2,610.4 731.8,610.4 731.8,609.8 732.0,609.8 732.0,609.3 732.4,609.3 732.4,608.5 733.0,608.5 733.0,607.3 733.0,607.3 733.0,607.4 733.6,607.4 733.6,606.3 734.0,606.3 734.0,604.4 734.2,604.4 734.2,604.1 734.8,604.1 734.8,602.9 735.1,602.9 735.1,602.3 735.4,602.3 735.4,601.7 736.0,601.7 736.0,600.5 736.6,600.5 736.6,599.3 736.6,599.3 736.6,599.2 737.2,599.2 737.2,598.4 737.8,598.4 737.8,597.6 738.1,597.6 738.1,597.1 738.4,597.1 738.4,597.0 739.0,597.0 739.0,596.2 739.6,596.2 739.6,595.8 739.7,595.8 739.7,594.9 740.2,594.9 740.2,594.2 740.8,594.2 740.8,593.8 741.4,593.8 741.4,593.0 741.4,593.0 741.4,593.1 742.0,593.1 742.0,587.6 742.6,587.6 742.6,581.5 743.1,581.5 743.1,576.7 743.2,576.7 743.2,574.7 743.8,574.7 743.8,564.4 744.4,564.4 744.4,554.3 744.5,554.3 744.5,552.2 745.0,552.2 745.0,550.3 745.6,550.3 745.6,547.9 746.2,547.9 746.2,545.5 746.5,545.5 746.5,543.9 746.8,543.9 746.8,543.5 747.4,543.5 747.4,542.3 748.0,542.3 748.0,541.1 748.6,541.1 748.6,540.4 748.6,540.4 748.6,540.3 749.2,540.3 749.2,539.2 749.8,539.2 749.8,538.0 750.4,538.0 750.4,536.8 750.6,536.8 750.6,535.8 751.0,535.8 751.0,534.8 751.6,534.8 751.6,533.0 752.2,533.0 752.2,531.2 752.7,531.2 752.7,529.2 752.8,529.2 752.8,529.1 753.4,529.1 753.4,527.9 754.0,527.9 754.0,526.7 754.6,526.7 754.6,525.8 754.7,525.8 754.7,525.5 755.2,525.5 755.2,524.7 755.8,524.7 755.8,522.9 756.4,522.9 756.4,521.1 756.8,521.1 756.8,519.1 757.0,519.1 757.0,518.5 757.6,518.5 757.6,516.7 758.2,516.7 758.2,514.9 758.8,514.9 758.8,513.1 758.8,513.1 758.8,512.8 759.4,512.8 759.4,511.3 760.0,511.3 760.0,509.7 760.3,509.7 760.3,508.8 760.6,508.8 760.6,508.1 761.2,508.1 761.2,506.6 761.8,506.6 761.8,505.1 761.9,505.1 761.9,504.8 762.4,504.8 762.4,503.7 763.0,503.7 763.0,502.2 763.6,502.2 763.6,500.7 763.6,500.7 764.2,500.7 764.2,499.4 764.8,499.4 764.8,498.2 765.0,498.2 765.0,497.7 765.4,497.7 765.4,497.0 766.0,497.0 766.0,495.8 766.6,495.8 766.6,494.7 766.6,494.7 766.6,494.6 767.2,494.6 767.2,498.1 767.8,498.1 767.8,502.4 768.1,502.4 768.1,504.6 768.4,504.6 768.4,506.0 769.0,506.0 769.0,509.7 769.6,509.7 769.6,512.7 769.7,512.7 769.7,513.4 770.2,513.4 770.2,514.3 770.8,514.3 770.8,515.5 771.4,515.5 771.4,517.2 771.8,517.2 771.8,518.1 772.0,518.1 772.0,517.9 772.6,517.9 772.6,518.2 773.2,518.2 773.2,518.5 773.8,518.5 773.8,518.9 773.8,518.9 773.8,518.9 774.4,518.9 774.4,519.0 775.0,519.0 775.0,518.7 775.6,518.7 775.6,518.4 775.9,518.4 775.9,518.2 776.2,518.2 776.2,518.8 776.8,518.8 776.8,519.9 777.4,519.9 777.4,521.1 777.9,521.1 777.9,522.4 778.0,522.4 778.0,522.4 778.6,522.4 778.6,523.0 779.2,523.0 779.2,523.6 779.8,523.6 779.8,523.3 780.0,523.3 780.0,523.5 780.4,523.5 780.4,523.9 781.0,523.9 781.0,524.5 781.6,524.5 781.6,526.0 782.0,526.0 782.0,526.4 782.2,526.4 782.2,526.2 782.8,526.2 782.8,526.8 783.4,526.8 783.4,527.4 784.0,527.4 784.0,528.0 784.1,528.0 784.1,528.1 784.6,528.1 784.6,528.8 785.2,528.8 785.2,529.7 785.5,529.7 785.5,530.1 785.8,530.1 785.8,529.7 786.4,529.7 786.4,528.2 786.9,528.2 786.9,527.4 787.0,527.4 787.0,527.1 787.6,527.1 788.2,527.1 788.8,527.1 789.0,527.1 789.4,527.1 789.4,528.1 790.0,528.1 790.0,529.3 790.6,529.3 790.6,530.0 791.1,530.0 791.1,531.0 791.2,531.0 791.2,531.1 791.8,531.1 791.8,531.7 792.4,531.7 792.4,532.3 793.0,532.3 793.0,533.1 793.1,533.1 793.1,533.2 793.6,533.2 793.6,532.7 794.2,532.7 794.2,532.6 794.8,532.6 794.8,532.0 795.2,532.0 795.2,531.3 795.4,531.3 795.4,531.4 796.0,531.4 796.0,532.3 796.6,532.3 796.6,532.6 797.2,532.6 797.2,532.9 797.2,532.9 797.2,532.9 797.8,532.9 797.8,533.2 798.4,533.2 798.4,534.1 799.0,534.1 799.0,535.0 799.3,535.0 799.3,535.4 799.6,535.4 799.6,536.3 800.2,536.3 800.2,537.5 800.8,537.5 800.8,538.7 801.3,538.7 801.3,539.7 801.4,539.7 801.4,539.8 802.0,539.8 802.0,540.3 802.6,540.3 802.6,540.9 803.2,540.9 803.2,541.6 803.4,541.6 803.4,541.8 803.8,541.8 803.8,542.2 804.4,542.2 804.4,542.8 805.0,542.8 805.0,543.7 805.4,543.7 805.4,544.2 805.6,544.2 805.6,544.2 806.2,544.2 806.2,544.9 806.8,544.9 806.8,545.7 807.1,545.7 807.1,546.9 807.4,546.9 807.4,547.2 808.0,547.2 808.0,548.0 808.6,548.0 808.6,548.7 808.7,548.7 808.7,548.9 809.2,548.9 809.2,550.7 809.7,550.7 809.7,552.9 809.8,552.9 809.8,553.5 810.4,553.5 810.4,560.7 810.7,560.7 810.7,565.2 811.0,565.2 811.0,566.7 811.6,566.7 811.6,571.1 812.1,571.1 812.1,574.6 812.2,574.6 812.2,574.7 812.8,574.7 812.8,575.9 813.4,575.9 813.4,576.5 814.0,576.5 814.0,577.1 814.1,577.1 814.1,577.3 814.6,577.3 814.6,576.8 815.2,576.8 815.2,576.5 815.8,576.5 815.8,575.9 816.2,575.9 816.2,575.5 816.4,575.5 816.4,575.3 817.0,575.3 817.0,575.9 817.6,575.9 817.6,576.5 818.2,576.5 818.2,577.1 818.2,577.1 818.2,577.1 818.8,577.1 818.8,577.1 819.4,577.1 819.4,576.5 820.0,576.5 820.0,575.9 820.3,575.9 820.3,575.6 820.6,575.6 820.6,575.5 821.2,575.5 821.2,573.8 821.8,573.8 821.8,573.5 822.3,573.5 822.3,573.2 822.4,573.2 822.4,573.2 823.0,573.2 823.0,573.5 823.6,573.5 823.6,574.1 824.2,574.1 824.2,574.4 824.4,574.4 824.4,574.5 824.8,574.5 824.8,574.7 825.4,574.7 825.4,574.4 826.0,574.4 826.0,574.1 826.4,574.1 826.4,574.4 826.6,574.4 826.6,574.5 827.2,574.5 827.2,574.8 827.8,574.8 827.8,575.1 828.4,575.1 828.4,575.4 828.5,575.4 828.5,575.7 829.0,575.7 829.0,576.2 829.6,576.2 829.6,576.8 830.2,576.8 830.2,577.6 830.5,577.6 830.5,577.9 830.8,577.9 830.8,578.2 831.4,578.2 831.4,579.0 832.0,579.0 832.0,579.6 832.6,579.6 832.6,580.2 832.6,580.2 833.2,580.2 833.2,580.7 833.8,580.7 834.4,580.7 834.6,580.7 835.0,580.7 835.0,580.9 835.0,580.9 835.0,581.0 835.6,581.0 836.2,581.0 836.8,581.0 836.8,581.0 836.8,580.2 837.4,580.2 837.4,580.4 838.0,580.4 838.0,580.7 838.6,580.7 838.6,581.0 838.6,581.0 838.6,580.6 839.2,580.6 839.2,580.9 839.8,580.9 839.8,581.2 840.4,581.2 840.4,581.3 840.4,581.4 841.0,581.4 841.0,581.6 841.6,581.6 841.6,581.9 842.2,581.9 842.2,582.2 842.2,582.2 842.2,582.7 842.8,582.7 842.8,582.4 843.4,582.4 843.4,582.1 844.0,582.1 844.0,581.9 844.0,581.9 844.6,581.9 844.6,582.5 844.9,582.5 844.9,582.8 845.2,582.8 845.2,584.3 845.8,584.3 845.8,586.7 845.8,586.7 845.8,586.7 846.4,586.7 846.4,587.0 847.0,587.0 847.0,587.3 847.6,587.3 847.6,587.5 847.6,587.5 848.2,587.5 848.2,587.2 848.8,587.2 848.8,586.9 849.4,586.9 849.4,586.6 849.4,586.6 849.4,586.2 850.0,586.2 850.0,586.6 850.6,586.6 850.6,587.0 850.7,587.0 850.7,586.1 851.2,586.1 851.2,587.5 851.6,587.5 851.6,589.2 851.8,589.2 851.8,589.3 852.4,589.3 852.4,589.7 853.0,589.7 853.0,590.1 853.0,590.1 853.0,590.1 853.6,590.1 853.6,591.0 854.2,591.0 854.2,591.6 854.7,591.6 854.7,592.2 854.8,592.2 854.8,592.2 855.4,592.2 855.4,592.8 856.0,592.8 856.0,593.4 856.5,593.4 856.5,594.0 856.6,594.0 856.6,593.7 857.2,593.7 857.2,594.0 857.8,594.0 857.8,594.3 858.3,594.3 858.3,594.8 858.4,594.8 858.4,594.8 859.0,594.8 859.0,597.0 859.6,597.0 859.6,598.2 859.7,598.2 859.7,598.5 860.2,598.5 860.2,599.3 860.8,599.3 860.8,600.9 861.0,600.9 861.0,601.6 861.4,601.6 861.4,601.8 862.0,601.8 862.0,602.2 862.4,602.2 862.4,602.1 862.6,602.1 863.2,602.1 863.8,602.1 864.4,602.1 864.4,602.2 864.6,602.2 865.0,602.2 865.0,602.1 865.6,602.1 865.6,602.1 866.2,602.1 866.2,602.0 866.4,602.0 866.4,601.9 866.8,601.9 866.8,602.0 867.4,602.0 867.4,602.1 868.0,602.1 868.0,603.0 868.2,603.0 868.2,603.1 868.6,603.1 868.6,603.6 869.2,603.6 869.2,604.0 869.6,604.0 869.6,603.8 869.8,603.8 869.8,604.4 870.4,604.4 870.4,606.9 870.9,606.9 870.9,608.3 871.0,608.3 871.0,608.2 871.6,608.2 871.6,606.4 871.8,606.4 871.8,604.5 872.2,604.5 872.2,604.8 872.7,604.8 872.7,605.4 872.8,605.4 872.8,605.5 873.4,605.5 873.4,607.3 874.0,607.3 874.0,608.9 874.0,608.9 874.0,609.4 874.6,609.4 874.6,609.5 875.2,609.5 875.2,609.7 875.4,609.7 875.4,609.8 875.8,609.8 875.8,609.7 876.4,609.7 876.4,609.4 877.0,609.4 877.0,609.3 877.2,609.3 877.2,609.2 877.6,609.2 877.6,609.0 878.2,609.0 878.2,608.7 878.8,608.7 878.8,608.9 879.0,608.9 879.0,608.8 879.4,608.8 879.4,608.6 880.0,608.6 880.0,608.3 880.6,608.3 880.6,608.0 880.8,608.0 880.8,607.9 881.2,607.9 881.2,607.7 881.8,607.7 881.8,607.4 882.4,607.4 882.4,607.1 882.6,607.1 882.6,607.0 883.0,607.0 883.0,607.1 883.6,607.1 883.6,607.3 884.2,607.3 884.2,607.4 884.4,607.4 884.4,607.5 884.8,607.5 884.8,607.6 885.4,607.6 885.4,607.7 886.0,607.7 886.0,607.4 886.2,607.4 886.2,607.5 886.6,607.5 886.6,608.7 887.1,608.7 887.1,610.2 887.2,610.2 887.2,609.9 887.8,609.9 887.8,610.5 888.4,610.5 888.4,610.2 888.9,610.2 888.9,610.7 889.0,610.7 889.0,610.7 889.6,610.7 889.6,610.9 890.2,610.9 890.2,611.0 890.7,611.0 890.7,611.1 890.8,611.1 891.4,611.1 892.0,611.1 892.5,611.1 892.5,611.0 892.6,611.0 892.6,609.7 893.2,609.7 893.2,602.5 893.2,602.5 893.2,602.5 893.7,602.5 893.7,597.7 893.8,597.7 893.8,597.4 894.4,597.4 894.4,593.8 895.0,593.8 895.0,590.2 895.0,590.2 895.0,588.7 895.6,588.7 895.6,585.8 896.2,585.8 896.2,582.8 896.3,582.8 896.3,582.2 896.8,582.2 896.8,580.8 897.4,580.8 897.4,579.1 897.6,579.1 897.6,578.5 898.0,578.5 898.0,577.7 898.6,577.7 898.6,576.5 898.8,576.5 898.8,576.2 899.2,576.2 899.2,574.3 899.7,574.3 899.7,571.0 899.8,571.0 899.8,570.7 900.4,570.7 900.4,569.6 900.8,569.6 900.8,568.8 901.0,568.8 901.0,568.4 901.6,568.4 902.2,568.4 902.7,568.4 902.7,568.0 902.8,568.0 902.8,568.0 903.4,568.0 903.4,567.8 904.0,567.8 904.0,567.6 904.6,567.6 904.6,567.4 904.6,567.4 904.6,568.7 905.2,568.7 905.8,568.7 905.8,569.3 906.4,569.3 907.0,569.3 907.2,569.3 907.6,569.3 907.6,569.5 908.2,569.5 908.2,569.2 908.8,569.2 908.8,568.9 909.4,568.9 909.4,568.6 909.7,568.6 909.7,568.4 910.0,568.4 910.0,567.4 910.6,567.4 910.6,566.8 911.2,566.8 911.2,566.2 911.8,566.2 911.8,565.6 912.3,565.6 912.3,565.0 912.4,565.0 912.4,564.8 913.0,564.8 913.0,564.0 913.6,564.0 913.6,563.2 914.2,563.2 914.2,562.4 914.2,562.4 914.2,562.3 914.8,562.3 914.8,561.6 915.4,561.6 915.4,560.8 916.0,560.8 916.0,560.4 916.2,560.4 916.2,560.2 916.6,560.2 916.6,560.0 917.2,560.0 917.7,560.0 917.8,560.0 917.8,560.5 918.4,560.5 918.4,564.2 918.7,564.2 918.7,565.7 919.0,565.7 919.0,566.4 919.6,566.4 919.6,568.2 920.0,568.2 920.0,569.5 920.2,569.5 920.2,570.6 920.8,570.6 920.8,572.4 921.3,572.4 921.3,574.3 921.4,574.3 921.4,574.4 922.0,574.4 922.0,575.6 922.6,575.6 922.6,577.4 922.6,577.4 923.2,577.4 923.2,578.0 923.8,578.0 923.8,578.7 923.8,578.7 923.8,578.7 924.4,578.7 924.4,580.8 925.0,580.8 925.0,583.2 925.1,583.2 925.1,584.6 925.6,584.6 925.6,588.1 925.8,588.1 925.8,589.7"/>
<line x1="598.3" y1="443.9" x2="634.3" y2="443.9" stroke="#8f8f8f" stroke-width="1.3"/>
<line x1="711" y1="443.9" x2="747" y2="443.9" stroke="#c8102e" stroke-width="1.3"/>
<line x1="851" y1="443.9" x2="887" y2="443.9" stroke="#303030" stroke-width="1.3"/></svg>
<div class="a sl yl" style="top:689.4px">5%</div>
<div class="a sl yl" style="top:649.1px">10%</div>
<div class="a sl yl" style="top:608.7px">15%</div>
<div class="a sl yl" style="top:568.4px">20%</div>
<div class="a sl yl" style="top:528.1px">25%</div>
<div class="a sl yl" style="top:487.7px">30%</div>
<div class="a sl yl" style="top:447.4px">35%</div>
<div class="a sl xl" style="left:79.4px">30日波动率</div>
<div class="a sl xl" style="left:252.0px">60日波动率</div>
<div class="a sl xl" style="left:424.4px">90日波动率</div>
<div class="a sl lg" style="left:155px;top:420px"><span style="font-size:17.2px">当前</span></div>
<div class="a sl lg" style="left:267px;top:420px">10.00%</div>
<div class="a sl lg" style="left:379.5px;top:420px">25.00%</div>
<div class="a sl lg" style="left:154.7px;top:445px">50.00%</div>
<div class="a sl lg" style="left:267px;top:445px">75.00%</div>
<div class="a sl lg" style="left:379.5px;top:445px">90.00%</div>
<div class="a sl ry" style="top:649.5px">0%</div>
<div class="a sl ry" style="top:626.5px">5%</div>
<div class="a sl ry" style="top:604.5px">10%</div>
<div class="a sl ry" style="top:581.5px">15%</div>
<div class="a sl ry" style="top:558.5px">20%</div>
<div class="a sl ry" style="top:536.5px">25%</div>
<div class="a sl ry" style="top:513.5px">30%</div>
<div class="a sl ry" style="top:491.5px">35%</div>
<div class="a sl ry" style="top:468.5px">40%</div>
<div class="a sl ry" style="top:445.5px">45%</div>
<div class="a sl rx" style="left:560.4px">2013/9/24</div>
<div class="a sl rx" style="left:579.8px">2014/1/2</div>
<div class="a sl rx" style="left:599.3px">2014/4/14</div>
<div class="a sl rx" style="left:618.7px">2014/7/18</div>
<div class="a sl rx" style="left:638.2px">2014/10/28</div>
<div class="a sl rx" style="left:657.6px">2015/1/30</div>
<div class="a sl rx" style="left:677.0px">2015/5/13</div>
<div class="a sl rx" style="left:696.5px">2015/8/14</div>
<div class="a sl rx" style="left:715.9px">2015/11/25</div>
<div class="a sl rx" style="left:735.4px">2016/3/4</div>
<div class="a sl rx" style="left:754.8px">2016/6/8</div>
<div class="a sl rx" style="left:774.2px">2016/9/12</div>
<div class="a sl rx" style="left:793.7px">2016/12/22</div>
<div class="a sl rx" style="left:813.1px">2017/4/5</div>
<div class="a sl rx" style="left:832.6px">2017/7/11</div>
<div class="a sl rx" style="left:852.0px">2017/10/18</div>
<div class="a sl rx" style="left:871.4px">2018/1/19</div>
<div class="a sl rx" style="left:890.9px">2018/5/4</div>
<div class="a sl rx" style="left:910.3px">2018/8/7</div>
<div class="a sl rl" style="left:638px">30日波动率</div>
<div class="a sl rl" style="left:752px">60日历史波动率</div>
<div class="a sl rl" style="left:890px">90日波动率</div>
</body></html>
